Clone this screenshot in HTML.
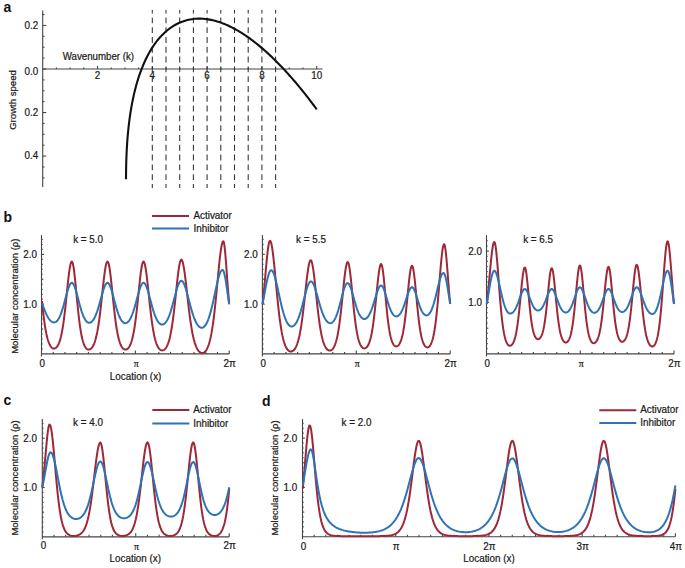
<!DOCTYPE html>
<html><head><meta charset="utf-8"><style>
html,body{margin:0;padding:0;background:#fff;width:685px;height:568px;overflow:hidden}
svg{display:block}
</style></head><body>
<svg width="685" height="568" viewBox="0 0 685 568">
<rect width="685" height="568" fill="#fff"/>
<text x="3.5" y="12.2" font-family='"Liberation Sans", sans-serif' font-size="14" text-anchor="start" font-weight="bold" fill="#111">a</text>
<line x1="42.7" y1="10.5" x2="42.7" y2="187" stroke="#444" stroke-width="1.1" />
<line x1="42.7" y1="69" x2="322.5" y2="69" stroke="#444" stroke-width="1.1" />
<line x1="42.7" y1="177.85" x2="44.5" y2="177.85" stroke="#444" stroke-width="1.1" />
<line x1="42.7" y1="166.97" x2="44.5" y2="166.97" stroke="#444" stroke-width="1.1" />
<line x1="42.7" y1="156.08" x2="46.2" y2="156.08" stroke="#444" stroke-width="1.1" />
<line x1="42.7" y1="145.19" x2="44.5" y2="145.19" stroke="#444" stroke-width="1.1" />
<line x1="42.7" y1="134.31" x2="44.5" y2="134.31" stroke="#444" stroke-width="1.1" />
<line x1="42.7" y1="123.42" x2="44.5" y2="123.42" stroke="#444" stroke-width="1.1" />
<line x1="42.7" y1="112.54" x2="46.2" y2="112.54" stroke="#444" stroke-width="1.1" />
<line x1="42.7" y1="101.66" x2="44.5" y2="101.66" stroke="#444" stroke-width="1.1" />
<line x1="42.7" y1="90.77" x2="44.5" y2="90.77" stroke="#444" stroke-width="1.1" />
<line x1="42.7" y1="79.89" x2="44.5" y2="79.89" stroke="#444" stroke-width="1.1" />
<line x1="42.7" y1="69" x2="46.2" y2="69" stroke="#444" stroke-width="1.1" />
<line x1="42.7" y1="58.12" x2="44.5" y2="58.12" stroke="#444" stroke-width="1.1" />
<line x1="42.7" y1="47.23" x2="44.5" y2="47.23" stroke="#444" stroke-width="1.1" />
<line x1="42.7" y1="36.34" x2="44.5" y2="36.34" stroke="#444" stroke-width="1.1" />
<line x1="42.7" y1="25.46" x2="46.2" y2="25.46" stroke="#444" stroke-width="1.1" />
<line x1="42.7" y1="14.58" x2="44.5" y2="14.58" stroke="#444" stroke-width="1.1" />
<text transform="translate(38.2 28.76) scale(0.97 1)" font-family='"Liberation Sans", sans-serif' font-size="10.18" text-anchor="end" fill="#1a1a1a" stroke="#1a1a1a" stroke-width="0.22">0.2</text>
<text transform="translate(38.2 74.6) scale(0.97 1)" font-family='"Liberation Sans", sans-serif' font-size="10.18" text-anchor="end" fill="#1a1a1a" stroke="#1a1a1a" stroke-width="0.22">0.0</text>
<text transform="translate(38.2 115.84) scale(0.97 1)" font-family='"Liberation Sans", sans-serif' font-size="10.18" text-anchor="end" fill="#1a1a1a" stroke="#1a1a1a" stroke-width="0.22">0.2</text>
<text transform="translate(38.2 159.38) scale(0.97 1)" font-family='"Liberation Sans", sans-serif' font-size="10.18" text-anchor="end" fill="#1a1a1a" stroke="#1a1a1a" stroke-width="0.22">0.4</text>
<line x1="56.4" y1="69" x2="56.4" y2="67.4" stroke="#444" stroke-width="1.1" />
<line x1="70.1" y1="69" x2="70.1" y2="67.4" stroke="#444" stroke-width="1.1" />
<line x1="83.8" y1="69" x2="83.8" y2="67.4" stroke="#444" stroke-width="1.1" />
<line x1="97.5" y1="69" x2="97.5" y2="66" stroke="#444" stroke-width="1.1" />
<line x1="111.2" y1="69" x2="111.2" y2="67.4" stroke="#444" stroke-width="1.1" />
<line x1="124.9" y1="69" x2="124.9" y2="67.4" stroke="#444" stroke-width="1.1" />
<line x1="138.6" y1="69" x2="138.6" y2="67.4" stroke="#444" stroke-width="1.1" />
<line x1="152.3" y1="69" x2="152.3" y2="66" stroke="#444" stroke-width="1.1" />
<line x1="166" y1="69" x2="166" y2="67.4" stroke="#444" stroke-width="1.1" />
<line x1="179.7" y1="69" x2="179.7" y2="67.4" stroke="#444" stroke-width="1.1" />
<line x1="193.4" y1="69" x2="193.4" y2="67.4" stroke="#444" stroke-width="1.1" />
<line x1="207.1" y1="69" x2="207.1" y2="66" stroke="#444" stroke-width="1.1" />
<line x1="220.8" y1="69" x2="220.8" y2="67.4" stroke="#444" stroke-width="1.1" />
<line x1="234.5" y1="69" x2="234.5" y2="67.4" stroke="#444" stroke-width="1.1" />
<line x1="248.2" y1="69" x2="248.2" y2="67.4" stroke="#444" stroke-width="1.1" />
<line x1="261.9" y1="69" x2="261.9" y2="66" stroke="#444" stroke-width="1.1" />
<line x1="275.6" y1="69" x2="275.6" y2="67.4" stroke="#444" stroke-width="1.1" />
<line x1="289.3" y1="69" x2="289.3" y2="67.4" stroke="#444" stroke-width="1.1" />
<line x1="303" y1="69" x2="303" y2="67.4" stroke="#444" stroke-width="1.1" />
<line x1="316.7" y1="69" x2="316.7" y2="66" stroke="#444" stroke-width="1.1" />
<text transform="translate(97.5 79) scale(0.97 1)" font-family='"Liberation Sans", sans-serif' font-size="10.18" text-anchor="middle" fill="#1a1a1a" stroke="#1a1a1a" stroke-width="0.22">2</text>
<text transform="translate(152.3 79) scale(0.97 1)" font-family='"Liberation Sans", sans-serif' font-size="10.18" text-anchor="middle" fill="#1a1a1a" stroke="#1a1a1a" stroke-width="0.22">4</text>
<text transform="translate(207.1 79) scale(0.97 1)" font-family='"Liberation Sans", sans-serif' font-size="10.18" text-anchor="middle" fill="#1a1a1a" stroke="#1a1a1a" stroke-width="0.22">6</text>
<text transform="translate(261.9 79) scale(0.97 1)" font-family='"Liberation Sans", sans-serif' font-size="10.18" text-anchor="middle" fill="#1a1a1a" stroke="#1a1a1a" stroke-width="0.22">8</text>
<text transform="translate(316.7 79) scale(0.97 1)" font-family='"Liberation Sans", sans-serif' font-size="10.18" text-anchor="middle" fill="#1a1a1a" stroke="#1a1a1a" stroke-width="0.22">10</text>
<text transform="translate(62.7 60.2) scale(0.97 1)" font-family='"Liberation Sans", sans-serif' font-size="10.02" text-anchor="start" fill="#1a1a1a" stroke="#1a1a1a" stroke-width="0.22">Wavenumber (k)</text>
<text transform="translate(16.4 100) rotate(-90)" font-family='"Liberation Sans", sans-serif' font-size="9.6" text-anchor="middle" fill="#1a1a1a" stroke="#1a1a1a" stroke-width="0.22">Growth speed</text>
<line x1="152.3" y1="10" x2="152.3" y2="188" stroke="#303030" stroke-width="1.05" stroke-dasharray="5.9,3.9" stroke-dashoffset="2.4"/>
<line x1="166" y1="10" x2="166" y2="188" stroke="#303030" stroke-width="1.05" stroke-dasharray="5.9,3.9" stroke-dashoffset="2.4"/>
<line x1="179.7" y1="10" x2="179.7" y2="188" stroke="#303030" stroke-width="1.05" stroke-dasharray="5.9,3.9" stroke-dashoffset="2.4"/>
<line x1="193.4" y1="10" x2="193.4" y2="188" stroke="#303030" stroke-width="1.05" stroke-dasharray="5.9,3.9" stroke-dashoffset="2.4"/>
<line x1="207.1" y1="10" x2="207.1" y2="188" stroke="#303030" stroke-width="1.05" stroke-dasharray="5.9,3.9" stroke-dashoffset="2.4"/>
<line x1="220.8" y1="10" x2="220.8" y2="188" stroke="#303030" stroke-width="1.05" stroke-dasharray="5.9,3.9" stroke-dashoffset="2.4"/>
<line x1="234.5" y1="10" x2="234.5" y2="188" stroke="#303030" stroke-width="1.05" stroke-dasharray="5.9,3.9" stroke-dashoffset="2.4"/>
<line x1="248.2" y1="10" x2="248.2" y2="188" stroke="#303030" stroke-width="1.05" stroke-dasharray="5.9,3.9" stroke-dashoffset="2.4"/>
<line x1="261.9" y1="10" x2="261.9" y2="188" stroke="#303030" stroke-width="1.05" stroke-dasharray="5.9,3.9" stroke-dashoffset="2.4"/>
<line x1="275.6" y1="10" x2="275.6" y2="188" stroke="#303030" stroke-width="1.05" stroke-dasharray="5.9,3.9" stroke-dashoffset="2.4"/>
<path d="M126.02,179.14 L126.03,176.90 L126.04,174.69 L126.06,172.49 L126.09,170.31 L126.12,168.15 L126.16,166.02 L126.21,163.89 L126.27,161.79 L126.33,159.71 L126.41,157.64 L126.49,155.59 L126.57,153.56 L126.67,151.54 L126.77,149.55 L126.88,147.56 L127.00,145.60 L127.12,143.65 L127.26,141.72 L127.40,139.81 L127.55,137.91 L127.70,136.03 L127.87,134.16 L128.04,132.31 L128.22,130.48 L128.40,128.66 L128.60,126.85 L128.80,125.07 L129.01,123.29 L129.23,121.54 L129.45,119.79 L129.68,118.06 L129.92,116.35 L130.17,114.65 L130.42,112.97 L130.69,111.30 L130.96,109.64 L131.23,108.00 L131.52,106.38 L131.81,104.76 L132.11,103.17 L132.42,101.58 L132.74,100.01 L133.06,98.46 L133.39,96.92 L133.73,95.39 L134.08,93.87 L134.43,92.37 L134.79,90.89 L135.16,89.42 L135.54,87.96 L135.92,86.51 L136.31,85.08 L136.71,83.67 L137.12,82.26 L137.54,80.88 L137.96,79.50 L138.39,78.14 L138.83,76.79 L139.27,75.46 L139.72,74.14 L141.21,70.04 L142.70,66.27 L144.19,62.78 L145.67,59.55 L147.16,56.54 L148.65,53.72 L150.14,51.10 L151.62,48.64 L153.11,46.33 L154.60,44.16 L156.08,42.13 L157.57,40.22 L159.06,38.42 L160.55,36.74 L162.03,35.15 L163.52,33.67 L165.01,32.27 L166.49,30.96 L167.98,29.74 L169.47,28.59 L170.96,27.52 L172.44,26.53 L173.93,25.60 L175.42,24.74 L176.90,23.95 L178.39,23.22 L179.88,22.55 L181.37,21.94 L182.85,21.39 L184.34,20.89 L185.83,20.44 L187.31,20.05 L188.80,19.71 L190.29,19.42 L191.78,19.17 L193.26,18.97 L194.75,18.82 L196.24,18.71 L197.73,18.65 L199.21,18.63 L200.70,18.65 L202.19,18.71 L203.67,18.81 L205.16,18.95 L206.65,19.13 L208.14,19.35 L209.62,19.60 L211.11,19.89 L212.60,20.21 L214.08,20.57 L215.57,20.97 L217.06,21.40 L218.55,21.86 L220.03,22.35 L221.52,22.88 L223.01,23.44 L224.49,24.03 L225.98,24.65 L227.47,25.30 L228.96,25.98 L230.44,26.69 L231.93,27.43 L233.42,28.20 L234.90,29.00 L236.39,29.82 L237.88,30.68 L239.37,31.56 L240.85,32.46 L242.34,33.40 L243.83,34.36 L245.32,35.34 L246.80,36.36 L248.29,37.39 L249.78,38.46 L251.26,39.55 L252.75,40.66 L254.24,41.80 L255.73,42.96 L257.21,44.15 L258.70,45.36 L260.19,46.59 L261.67,47.85 L263.16,49.13 L264.65,50.43 L266.14,51.76 L267.62,53.11 L269.11,54.48 L270.60,55.87 L272.08,57.28 L273.57,58.72 L275.06,60.18 L276.55,61.66 L278.03,63.16 L279.52,64.69 L281.01,66.23 L282.49,67.79 L283.98,69.38 L285.47,70.99 L286.96,72.61 L288.44,74.26 L289.93,75.93 L291.42,77.62 L292.91,79.32 L294.39,81.05 L295.88,82.80 L297.37,84.56 L298.85,86.35 L300.34,88.15 L301.83,89.98 L303.32,91.82 L304.80,93.68 L306.29,95.57 L307.78,97.47 L309.26,99.38 L310.75,101.32 L312.24,103.28 L313.73,105.25 L315.21,107.25 L316.70,109.26" fill="none" stroke="#111" stroke-width="2.1" stroke-linejoin="round" stroke-linecap="butt" />
<text x="3.5" y="221.5" font-family='"Liberation Sans", sans-serif' font-size="14" text-anchor="start" font-weight="bold" fill="#111">b</text>
<line x1="152" y1="215.9" x2="189" y2="215.9" stroke="#9e2838" stroke-width="2" />
<line x1="152" y1="228.6" x2="189" y2="228.6" stroke="#2c74b6" stroke-width="2" />
<text transform="translate(193.5 219.1) scale(0.97 1)" font-family='"Liberation Sans", sans-serif' font-size="10.18" text-anchor="start" fill="#1a1a1a" stroke="#1a1a1a" stroke-width="0.22">Activator</text>
<text transform="translate(193.5 231.8) scale(0.97 1)" font-family='"Liberation Sans", sans-serif' font-size="10.18" text-anchor="start" fill="#1a1a1a" stroke="#1a1a1a" stroke-width="0.22">Inhibitor</text>
<line x1="41.5" y1="235.1" x2="41.5" y2="356.4" stroke="#444" stroke-width="1.1" />
<line x1="41.5" y1="353.9" x2="229.2" y2="353.9" stroke="#444" stroke-width="1.1" />
<line x1="41.5" y1="348.92" x2="42.7" y2="348.92" stroke="#444" stroke-width="1.1" />
<line x1="41.5" y1="343.95" x2="42.7" y2="343.95" stroke="#444" stroke-width="1.1" />
<line x1="41.5" y1="338.97" x2="42.7" y2="338.97" stroke="#444" stroke-width="1.1" />
<line x1="41.5" y1="334" x2="42.7" y2="334" stroke="#444" stroke-width="1.1" />
<line x1="41.5" y1="329.02" x2="43.3" y2="329.02" stroke="#444" stroke-width="1.1" />
<line x1="41.5" y1="324.05" x2="42.7" y2="324.05" stroke="#444" stroke-width="1.1" />
<line x1="41.5" y1="319.07" x2="42.7" y2="319.07" stroke="#444" stroke-width="1.1" />
<line x1="41.5" y1="314.1" x2="42.7" y2="314.1" stroke="#444" stroke-width="1.1" />
<line x1="41.5" y1="309.12" x2="42.7" y2="309.12" stroke="#444" stroke-width="1.1" />
<line x1="41.5" y1="304.15" x2="43.9" y2="304.15" stroke="#444" stroke-width="1.1" />
<line x1="41.5" y1="299.17" x2="42.7" y2="299.17" stroke="#444" stroke-width="1.1" />
<line x1="41.5" y1="294.2" x2="42.7" y2="294.2" stroke="#444" stroke-width="1.1" />
<line x1="41.5" y1="289.22" x2="42.7" y2="289.22" stroke="#444" stroke-width="1.1" />
<line x1="41.5" y1="284.25" x2="42.7" y2="284.25" stroke="#444" stroke-width="1.1" />
<line x1="41.5" y1="279.27" x2="43.3" y2="279.27" stroke="#444" stroke-width="1.1" />
<line x1="41.5" y1="274.3" x2="42.7" y2="274.3" stroke="#444" stroke-width="1.1" />
<line x1="41.5" y1="269.32" x2="42.7" y2="269.32" stroke="#444" stroke-width="1.1" />
<line x1="41.5" y1="264.35" x2="42.7" y2="264.35" stroke="#444" stroke-width="1.1" />
<line x1="41.5" y1="259.38" x2="42.7" y2="259.38" stroke="#444" stroke-width="1.1" />
<line x1="41.5" y1="254.4" x2="43.9" y2="254.4" stroke="#444" stroke-width="1.1" />
<line x1="41.5" y1="249.42" x2="42.7" y2="249.42" stroke="#444" stroke-width="1.1" />
<line x1="41.5" y1="244.45" x2="42.7" y2="244.45" stroke="#444" stroke-width="1.1" />
<line x1="41.5" y1="239.47" x2="42.7" y2="239.47" stroke="#444" stroke-width="1.1" />
<line x1="53.23" y1="353.9" x2="53.23" y2="351.9" stroke="#444" stroke-width="1.1" />
<line x1="64.96" y1="353.9" x2="64.96" y2="351.9" stroke="#444" stroke-width="1.1" />
<line x1="76.69" y1="353.9" x2="76.69" y2="351.9" stroke="#444" stroke-width="1.1" />
<line x1="88.42" y1="353.9" x2="88.42" y2="351.9" stroke="#444" stroke-width="1.1" />
<line x1="100.16" y1="353.9" x2="100.16" y2="351.9" stroke="#444" stroke-width="1.1" />
<line x1="111.89" y1="353.9" x2="111.89" y2="351.9" stroke="#444" stroke-width="1.1" />
<line x1="123.62" y1="353.9" x2="123.62" y2="351.9" stroke="#444" stroke-width="1.1" />
<line x1="135.35" y1="353.9" x2="135.35" y2="350.4" stroke="#444" stroke-width="1.1" />
<line x1="147.08" y1="353.9" x2="147.08" y2="351.9" stroke="#444" stroke-width="1.1" />
<line x1="158.81" y1="353.9" x2="158.81" y2="351.9" stroke="#444" stroke-width="1.1" />
<line x1="170.54" y1="353.9" x2="170.54" y2="351.9" stroke="#444" stroke-width="1.1" />
<line x1="182.27" y1="353.9" x2="182.27" y2="351.9" stroke="#444" stroke-width="1.1" />
<line x1="194.01" y1="353.9" x2="194.01" y2="351.9" stroke="#444" stroke-width="1.1" />
<line x1="205.74" y1="353.9" x2="205.74" y2="351.9" stroke="#444" stroke-width="1.1" />
<line x1="217.47" y1="353.9" x2="217.47" y2="351.9" stroke="#444" stroke-width="1.1" />
<line x1="229.2" y1="353.9" x2="229.2" y2="350.4" stroke="#444" stroke-width="1.1" />
<text transform="translate(36.9 257.9) scale(0.97 1)" font-family='"Liberation Sans", sans-serif' font-size="10.18" text-anchor="end" fill="#1a1a1a" stroke="#1a1a1a" stroke-width="0.22">2.0</text>
<text transform="translate(36.9 307.85) scale(0.97 1)" font-family='"Liberation Sans", sans-serif' font-size="10.18" text-anchor="end" fill="#1a1a1a" stroke="#1a1a1a" stroke-width="0.22">1.0</text>
<text transform="translate(42.3 367) scale(0.97 1)" font-family='"Liberation Sans", sans-serif' font-size="10.18" text-anchor="middle" fill="#1a1a1a" stroke="#1a1a1a" stroke-width="0.22">0</text>
<text transform="translate(136.25 367) scale(0.97 1)" font-family='"Liberation Serif", serif' font-size="10.18" text-anchor="middle" fill="#1a1a1a" stroke="#1a1a1a" stroke-width="0.22">π</text>
<text transform="translate(229.7 367) scale(0.97 1)" font-family='"Liberation Sans", sans-serif' font-size="10.18" text-anchor="middle" fill="#1a1a1a" stroke="#1a1a1a" stroke-width="0.22">2π</text>
<text transform="translate(73.2 243.4) scale(0.97 1)" font-family='"Liberation Sans", sans-serif' font-size="10.18" text-anchor="start" fill="#1a1a1a" stroke="#1a1a1a" stroke-width="0.22">k = 5.0</text>
<line x1="262.4" y1="235.1" x2="262.4" y2="356.4" stroke="#444" stroke-width="1.1" />
<line x1="262.4" y1="353.9" x2="450.2" y2="353.9" stroke="#444" stroke-width="1.1" />
<line x1="262.4" y1="348.92" x2="263.6" y2="348.92" stroke="#444" stroke-width="1.1" />
<line x1="262.4" y1="343.94" x2="263.6" y2="343.94" stroke="#444" stroke-width="1.1" />
<line x1="262.4" y1="338.96" x2="263.6" y2="338.96" stroke="#444" stroke-width="1.1" />
<line x1="262.4" y1="333.98" x2="263.6" y2="333.98" stroke="#444" stroke-width="1.1" />
<line x1="262.4" y1="329" x2="264.2" y2="329" stroke="#444" stroke-width="1.1" />
<line x1="262.4" y1="324.02" x2="263.6" y2="324.02" stroke="#444" stroke-width="1.1" />
<line x1="262.4" y1="319.04" x2="263.6" y2="319.04" stroke="#444" stroke-width="1.1" />
<line x1="262.4" y1="314.06" x2="263.6" y2="314.06" stroke="#444" stroke-width="1.1" />
<line x1="262.4" y1="309.08" x2="263.6" y2="309.08" stroke="#444" stroke-width="1.1" />
<line x1="262.4" y1="304.1" x2="264.8" y2="304.1" stroke="#444" stroke-width="1.1" />
<line x1="262.4" y1="299.12" x2="263.6" y2="299.12" stroke="#444" stroke-width="1.1" />
<line x1="262.4" y1="294.14" x2="263.6" y2="294.14" stroke="#444" stroke-width="1.1" />
<line x1="262.4" y1="289.16" x2="263.6" y2="289.16" stroke="#444" stroke-width="1.1" />
<line x1="262.4" y1="284.18" x2="263.6" y2="284.18" stroke="#444" stroke-width="1.1" />
<line x1="262.4" y1="279.2" x2="264.2" y2="279.2" stroke="#444" stroke-width="1.1" />
<line x1="262.4" y1="274.22" x2="263.6" y2="274.22" stroke="#444" stroke-width="1.1" />
<line x1="262.4" y1="269.24" x2="263.6" y2="269.24" stroke="#444" stroke-width="1.1" />
<line x1="262.4" y1="264.26" x2="263.6" y2="264.26" stroke="#444" stroke-width="1.1" />
<line x1="262.4" y1="259.28" x2="263.6" y2="259.28" stroke="#444" stroke-width="1.1" />
<line x1="262.4" y1="254.3" x2="264.8" y2="254.3" stroke="#444" stroke-width="1.1" />
<line x1="262.4" y1="249.32" x2="263.6" y2="249.32" stroke="#444" stroke-width="1.1" />
<line x1="262.4" y1="244.34" x2="263.6" y2="244.34" stroke="#444" stroke-width="1.1" />
<line x1="262.4" y1="239.36" x2="263.6" y2="239.36" stroke="#444" stroke-width="1.1" />
<line x1="274.14" y1="353.9" x2="274.14" y2="351.9" stroke="#444" stroke-width="1.1" />
<line x1="285.88" y1="353.9" x2="285.88" y2="351.9" stroke="#444" stroke-width="1.1" />
<line x1="297.61" y1="353.9" x2="297.61" y2="351.9" stroke="#444" stroke-width="1.1" />
<line x1="309.35" y1="353.9" x2="309.35" y2="351.9" stroke="#444" stroke-width="1.1" />
<line x1="321.09" y1="353.9" x2="321.09" y2="351.9" stroke="#444" stroke-width="1.1" />
<line x1="332.82" y1="353.9" x2="332.82" y2="351.9" stroke="#444" stroke-width="1.1" />
<line x1="344.56" y1="353.9" x2="344.56" y2="351.9" stroke="#444" stroke-width="1.1" />
<line x1="356.3" y1="353.9" x2="356.3" y2="350.4" stroke="#444" stroke-width="1.1" />
<line x1="368.04" y1="353.9" x2="368.04" y2="351.9" stroke="#444" stroke-width="1.1" />
<line x1="379.77" y1="353.9" x2="379.77" y2="351.9" stroke="#444" stroke-width="1.1" />
<line x1="391.51" y1="353.9" x2="391.51" y2="351.9" stroke="#444" stroke-width="1.1" />
<line x1="403.25" y1="353.9" x2="403.25" y2="351.9" stroke="#444" stroke-width="1.1" />
<line x1="414.99" y1="353.9" x2="414.99" y2="351.9" stroke="#444" stroke-width="1.1" />
<line x1="426.73" y1="353.9" x2="426.73" y2="351.9" stroke="#444" stroke-width="1.1" />
<line x1="438.46" y1="353.9" x2="438.46" y2="351.9" stroke="#444" stroke-width="1.1" />
<line x1="450.2" y1="353.9" x2="450.2" y2="350.4" stroke="#444" stroke-width="1.1" />
<text transform="translate(257.8 257.8) scale(0.97 1)" font-family='"Liberation Sans", sans-serif' font-size="10.18" text-anchor="end" fill="#1a1a1a" stroke="#1a1a1a" stroke-width="0.22">2.0</text>
<text transform="translate(257.8 307.8) scale(0.97 1)" font-family='"Liberation Sans", sans-serif' font-size="10.18" text-anchor="end" fill="#1a1a1a" stroke="#1a1a1a" stroke-width="0.22">1.0</text>
<text transform="translate(263.2 367) scale(0.97 1)" font-family='"Liberation Sans", sans-serif' font-size="10.18" text-anchor="middle" fill="#1a1a1a" stroke="#1a1a1a" stroke-width="0.22">0</text>
<text transform="translate(357.2 367) scale(0.97 1)" font-family='"Liberation Serif", serif' font-size="10.18" text-anchor="middle" fill="#1a1a1a" stroke="#1a1a1a" stroke-width="0.22">π</text>
<text transform="translate(450.7 367) scale(0.97 1)" font-family='"Liberation Sans", sans-serif' font-size="10.18" text-anchor="middle" fill="#1a1a1a" stroke="#1a1a1a" stroke-width="0.22">2π</text>
<text transform="translate(296 243.4) scale(0.97 1)" font-family='"Liberation Sans", sans-serif' font-size="10.18" text-anchor="start" fill="#1a1a1a" stroke="#1a1a1a" stroke-width="0.22">k = 5.5</text>
<line x1="486.5" y1="235.1" x2="486.5" y2="356.4" stroke="#444" stroke-width="1.1" />
<line x1="486.5" y1="353.9" x2="674" y2="353.9" stroke="#444" stroke-width="1.1" />
<line x1="486.5" y1="348.76" x2="487.7" y2="348.76" stroke="#444" stroke-width="1.1" />
<line x1="486.5" y1="343.62" x2="487.7" y2="343.62" stroke="#444" stroke-width="1.1" />
<line x1="486.5" y1="338.48" x2="487.7" y2="338.48" stroke="#444" stroke-width="1.1" />
<line x1="486.5" y1="333.34" x2="487.7" y2="333.34" stroke="#444" stroke-width="1.1" />
<line x1="486.5" y1="328.2" x2="488.3" y2="328.2" stroke="#444" stroke-width="1.1" />
<line x1="486.5" y1="323.06" x2="487.7" y2="323.06" stroke="#444" stroke-width="1.1" />
<line x1="486.5" y1="317.92" x2="487.7" y2="317.92" stroke="#444" stroke-width="1.1" />
<line x1="486.5" y1="312.78" x2="487.7" y2="312.78" stroke="#444" stroke-width="1.1" />
<line x1="486.5" y1="307.64" x2="487.7" y2="307.64" stroke="#444" stroke-width="1.1" />
<line x1="486.5" y1="302.5" x2="488.9" y2="302.5" stroke="#444" stroke-width="1.1" />
<line x1="486.5" y1="297.36" x2="487.7" y2="297.36" stroke="#444" stroke-width="1.1" />
<line x1="486.5" y1="292.22" x2="487.7" y2="292.22" stroke="#444" stroke-width="1.1" />
<line x1="486.5" y1="287.08" x2="487.7" y2="287.08" stroke="#444" stroke-width="1.1" />
<line x1="486.5" y1="281.94" x2="487.7" y2="281.94" stroke="#444" stroke-width="1.1" />
<line x1="486.5" y1="276.8" x2="488.3" y2="276.8" stroke="#444" stroke-width="1.1" />
<line x1="486.5" y1="271.66" x2="487.7" y2="271.66" stroke="#444" stroke-width="1.1" />
<line x1="486.5" y1="266.52" x2="487.7" y2="266.52" stroke="#444" stroke-width="1.1" />
<line x1="486.5" y1="261.38" x2="487.7" y2="261.38" stroke="#444" stroke-width="1.1" />
<line x1="486.5" y1="256.24" x2="487.7" y2="256.24" stroke="#444" stroke-width="1.1" />
<line x1="486.5" y1="251.1" x2="488.9" y2="251.1" stroke="#444" stroke-width="1.1" />
<line x1="486.5" y1="245.96" x2="487.7" y2="245.96" stroke="#444" stroke-width="1.1" />
<line x1="486.5" y1="240.82" x2="487.7" y2="240.82" stroke="#444" stroke-width="1.1" />
<line x1="498.22" y1="353.9" x2="498.22" y2="351.9" stroke="#444" stroke-width="1.1" />
<line x1="509.94" y1="353.9" x2="509.94" y2="351.9" stroke="#444" stroke-width="1.1" />
<line x1="521.66" y1="353.9" x2="521.66" y2="351.9" stroke="#444" stroke-width="1.1" />
<line x1="533.38" y1="353.9" x2="533.38" y2="351.9" stroke="#444" stroke-width="1.1" />
<line x1="545.09" y1="353.9" x2="545.09" y2="351.9" stroke="#444" stroke-width="1.1" />
<line x1="556.81" y1="353.9" x2="556.81" y2="351.9" stroke="#444" stroke-width="1.1" />
<line x1="568.53" y1="353.9" x2="568.53" y2="351.9" stroke="#444" stroke-width="1.1" />
<line x1="580.25" y1="353.9" x2="580.25" y2="350.4" stroke="#444" stroke-width="1.1" />
<line x1="591.97" y1="353.9" x2="591.97" y2="351.9" stroke="#444" stroke-width="1.1" />
<line x1="603.69" y1="353.9" x2="603.69" y2="351.9" stroke="#444" stroke-width="1.1" />
<line x1="615.41" y1="353.9" x2="615.41" y2="351.9" stroke="#444" stroke-width="1.1" />
<line x1="627.12" y1="353.9" x2="627.12" y2="351.9" stroke="#444" stroke-width="1.1" />
<line x1="638.84" y1="353.9" x2="638.84" y2="351.9" stroke="#444" stroke-width="1.1" />
<line x1="650.56" y1="353.9" x2="650.56" y2="351.9" stroke="#444" stroke-width="1.1" />
<line x1="662.28" y1="353.9" x2="662.28" y2="351.9" stroke="#444" stroke-width="1.1" />
<line x1="674" y1="353.9" x2="674" y2="350.4" stroke="#444" stroke-width="1.1" />
<text transform="translate(481.9 254.6) scale(0.97 1)" font-family='"Liberation Sans", sans-serif' font-size="10.18" text-anchor="end" fill="#1a1a1a" stroke="#1a1a1a" stroke-width="0.22">2.0</text>
<text transform="translate(481.9 306.2) scale(0.97 1)" font-family='"Liberation Sans", sans-serif' font-size="10.18" text-anchor="end" fill="#1a1a1a" stroke="#1a1a1a" stroke-width="0.22">1.0</text>
<text transform="translate(487.3 367) scale(0.97 1)" font-family='"Liberation Sans", sans-serif' font-size="10.18" text-anchor="middle" fill="#1a1a1a" stroke="#1a1a1a" stroke-width="0.22">0</text>
<text transform="translate(581.15 367) scale(0.97 1)" font-family='"Liberation Serif", serif' font-size="10.18" text-anchor="middle" fill="#1a1a1a" stroke="#1a1a1a" stroke-width="0.22">π</text>
<text transform="translate(674.5 367) scale(0.97 1)" font-family='"Liberation Sans", sans-serif' font-size="10.18" text-anchor="middle" fill="#1a1a1a" stroke="#1a1a1a" stroke-width="0.22">2π</text>
<text transform="translate(523.2 243.4) scale(0.97 1)" font-family='"Liberation Sans", sans-serif' font-size="10.18" text-anchor="start" fill="#1a1a1a" stroke="#1a1a1a" stroke-width="0.22">k = 6.5</text>
<text transform="translate(17.6 296.2) rotate(-90)" font-family='"Liberation Sans", sans-serif' font-size="9.5" text-anchor="middle" fill="#1a1a1a" stroke="#1a1a1a" stroke-width="0.22">Molecular concentration (ρ)</text>
<text transform="translate(135.6 380) scale(0.97 1)" font-family='"Liberation Sans", sans-serif' font-size="10.18" text-anchor="middle" fill="#1a1a1a" stroke="#1a1a1a" stroke-width="0.22">Location (x)</text>
<text x="3.5" y="405" font-family='"Liberation Sans", sans-serif' font-size="14" text-anchor="start" font-weight="bold" fill="#111">c</text>
<line x1="152.3" y1="409.9" x2="189.3" y2="409.9" stroke="#9e2838" stroke-width="2" />
<line x1="152.3" y1="423.4" x2="189.3" y2="423.4" stroke="#2c74b6" stroke-width="2" />
<text transform="translate(193.2 413.1) scale(0.97 1)" font-family='"Liberation Sans", sans-serif' font-size="10.18" text-anchor="start" fill="#1a1a1a" stroke="#1a1a1a" stroke-width="0.22">Activator</text>
<text transform="translate(193.2 426.6) scale(0.97 1)" font-family='"Liberation Sans", sans-serif' font-size="10.18" text-anchor="start" fill="#1a1a1a" stroke="#1a1a1a" stroke-width="0.22">Inhibitor</text>
<line x1="42.3" y1="418.9" x2="42.3" y2="539.35" stroke="#444" stroke-width="1.1" />
<line x1="42.3" y1="536.85" x2="229.2" y2="536.85" stroke="#444" stroke-width="1.1" />
<line x1="42.3" y1="531.92" x2="43.5" y2="531.92" stroke="#444" stroke-width="1.1" />
<line x1="42.3" y1="526.99" x2="43.5" y2="526.99" stroke="#444" stroke-width="1.1" />
<line x1="42.3" y1="522.06" x2="43.5" y2="522.06" stroke="#444" stroke-width="1.1" />
<line x1="42.3" y1="517.13" x2="43.5" y2="517.13" stroke="#444" stroke-width="1.1" />
<line x1="42.3" y1="512.2" x2="44.1" y2="512.2" stroke="#444" stroke-width="1.1" />
<line x1="42.3" y1="507.27" x2="43.5" y2="507.27" stroke="#444" stroke-width="1.1" />
<line x1="42.3" y1="502.34" x2="43.5" y2="502.34" stroke="#444" stroke-width="1.1" />
<line x1="42.3" y1="497.41" x2="43.5" y2="497.41" stroke="#444" stroke-width="1.1" />
<line x1="42.3" y1="492.48" x2="43.5" y2="492.48" stroke="#444" stroke-width="1.1" />
<line x1="42.3" y1="487.55" x2="44.7" y2="487.55" stroke="#444" stroke-width="1.1" />
<line x1="42.3" y1="482.62" x2="43.5" y2="482.62" stroke="#444" stroke-width="1.1" />
<line x1="42.3" y1="477.69" x2="43.5" y2="477.69" stroke="#444" stroke-width="1.1" />
<line x1="42.3" y1="472.76" x2="43.5" y2="472.76" stroke="#444" stroke-width="1.1" />
<line x1="42.3" y1="467.83" x2="43.5" y2="467.83" stroke="#444" stroke-width="1.1" />
<line x1="42.3" y1="462.9" x2="44.1" y2="462.9" stroke="#444" stroke-width="1.1" />
<line x1="42.3" y1="457.97" x2="43.5" y2="457.97" stroke="#444" stroke-width="1.1" />
<line x1="42.3" y1="453.04" x2="43.5" y2="453.04" stroke="#444" stroke-width="1.1" />
<line x1="42.3" y1="448.11" x2="43.5" y2="448.11" stroke="#444" stroke-width="1.1" />
<line x1="42.3" y1="443.18" x2="43.5" y2="443.18" stroke="#444" stroke-width="1.1" />
<line x1="42.3" y1="438.25" x2="44.7" y2="438.25" stroke="#444" stroke-width="1.1" />
<line x1="42.3" y1="433.32" x2="43.5" y2="433.32" stroke="#444" stroke-width="1.1" />
<line x1="42.3" y1="428.39" x2="43.5" y2="428.39" stroke="#444" stroke-width="1.1" />
<line x1="42.3" y1="423.46" x2="43.5" y2="423.46" stroke="#444" stroke-width="1.1" />
<line x1="53.98" y1="536.85" x2="53.98" y2="534.85" stroke="#444" stroke-width="1.1" />
<line x1="65.66" y1="536.85" x2="65.66" y2="534.85" stroke="#444" stroke-width="1.1" />
<line x1="77.34" y1="536.85" x2="77.34" y2="534.85" stroke="#444" stroke-width="1.1" />
<line x1="89.02" y1="536.85" x2="89.02" y2="534.85" stroke="#444" stroke-width="1.1" />
<line x1="100.71" y1="536.85" x2="100.71" y2="534.85" stroke="#444" stroke-width="1.1" />
<line x1="112.39" y1="536.85" x2="112.39" y2="534.85" stroke="#444" stroke-width="1.1" />
<line x1="124.07" y1="536.85" x2="124.07" y2="534.85" stroke="#444" stroke-width="1.1" />
<line x1="135.75" y1="536.85" x2="135.75" y2="533.35" stroke="#444" stroke-width="1.1" />
<line x1="147.43" y1="536.85" x2="147.43" y2="534.85" stroke="#444" stroke-width="1.1" />
<line x1="159.11" y1="536.85" x2="159.11" y2="534.85" stroke="#444" stroke-width="1.1" />
<line x1="170.79" y1="536.85" x2="170.79" y2="534.85" stroke="#444" stroke-width="1.1" />
<line x1="182.47" y1="536.85" x2="182.47" y2="534.85" stroke="#444" stroke-width="1.1" />
<line x1="194.16" y1="536.85" x2="194.16" y2="534.85" stroke="#444" stroke-width="1.1" />
<line x1="205.84" y1="536.85" x2="205.84" y2="534.85" stroke="#444" stroke-width="1.1" />
<line x1="217.52" y1="536.85" x2="217.52" y2="534.85" stroke="#444" stroke-width="1.1" />
<line x1="229.2" y1="536.85" x2="229.2" y2="533.35" stroke="#444" stroke-width="1.1" />
<text transform="translate(37 441.8) scale(0.97 1)" font-family='"Liberation Sans", sans-serif' font-size="10.18" text-anchor="end" fill="#1a1a1a" stroke="#1a1a1a" stroke-width="0.22">2.0</text>
<text transform="translate(37 491.1) scale(0.97 1)" font-family='"Liberation Sans", sans-serif' font-size="10.18" text-anchor="end" fill="#1a1a1a" stroke="#1a1a1a" stroke-width="0.22">1.0</text>
<text transform="translate(43.6 549.4) scale(0.97 1)" font-family='"Liberation Sans", sans-serif' font-size="10.18" text-anchor="middle" fill="#1a1a1a" stroke="#1a1a1a" stroke-width="0.22">0</text>
<text transform="translate(136.6 549.5) scale(0.97 1)" font-family='"Liberation Serif", serif' font-size="10.18" text-anchor="middle" fill="#1a1a1a" stroke="#1a1a1a" stroke-width="0.22">π</text>
<text transform="translate(229.7 549.4) scale(0.97 1)" font-family='"Liberation Sans", sans-serif' font-size="10.18" text-anchor="middle" fill="#1a1a1a" stroke="#1a1a1a" stroke-width="0.22">2π</text>
<text transform="translate(73 426.2) scale(0.97 1)" font-family='"Liberation Sans", sans-serif' font-size="10.18" text-anchor="start" fill="#1a1a1a" stroke="#1a1a1a" stroke-width="0.22">k = 4.0</text>
<text transform="translate(17.5 478) rotate(-90)" font-family='"Liberation Sans", sans-serif' font-size="9.5" text-anchor="middle" fill="#1a1a1a" stroke="#1a1a1a" stroke-width="0.22">Molecular concentration (ρ)</text>
<text transform="translate(135.3 561.6) scale(0.97 1)" font-family='"Liberation Sans", sans-serif' font-size="10.18" text-anchor="middle" fill="#1a1a1a" stroke="#1a1a1a" stroke-width="0.22">Location (x)</text>
<text x="262" y="406" font-family='"Liberation Sans", sans-serif' font-size="14" text-anchor="start" font-weight="bold" fill="#111">d</text>
<line x1="599.3" y1="410.2" x2="636.3" y2="410.2" stroke="#9e2838" stroke-width="2" />
<line x1="599.3" y1="423.1" x2="636.3" y2="423.1" stroke="#2c74b6" stroke-width="2" />
<text transform="translate(640.2 413.4) scale(0.97 1)" font-family='"Liberation Sans", sans-serif' font-size="10.18" text-anchor="start" fill="#1a1a1a" stroke="#1a1a1a" stroke-width="0.22">Activator</text>
<text transform="translate(640.2 426.3) scale(0.97 1)" font-family='"Liberation Sans", sans-serif' font-size="10.18" text-anchor="start" fill="#1a1a1a" stroke="#1a1a1a" stroke-width="0.22">Inhibitor</text>
<line x1="302.5" y1="419" x2="302.5" y2="539.2" stroke="#444" stroke-width="1.1" />
<line x1="302.5" y1="536.7" x2="675.4" y2="536.7" stroke="#444" stroke-width="1.1" />
<line x1="302.5" y1="531.77" x2="303.7" y2="531.77" stroke="#444" stroke-width="1.1" />
<line x1="302.5" y1="526.84" x2="303.7" y2="526.84" stroke="#444" stroke-width="1.1" />
<line x1="302.5" y1="521.91" x2="303.7" y2="521.91" stroke="#444" stroke-width="1.1" />
<line x1="302.5" y1="516.98" x2="303.7" y2="516.98" stroke="#444" stroke-width="1.1" />
<line x1="302.5" y1="512.05" x2="304.3" y2="512.05" stroke="#444" stroke-width="1.1" />
<line x1="302.5" y1="507.12" x2="303.7" y2="507.12" stroke="#444" stroke-width="1.1" />
<line x1="302.5" y1="502.19" x2="303.7" y2="502.19" stroke="#444" stroke-width="1.1" />
<line x1="302.5" y1="497.26" x2="303.7" y2="497.26" stroke="#444" stroke-width="1.1" />
<line x1="302.5" y1="492.33" x2="303.7" y2="492.33" stroke="#444" stroke-width="1.1" />
<line x1="302.5" y1="487.4" x2="304.9" y2="487.4" stroke="#444" stroke-width="1.1" />
<line x1="302.5" y1="482.47" x2="303.7" y2="482.47" stroke="#444" stroke-width="1.1" />
<line x1="302.5" y1="477.54" x2="303.7" y2="477.54" stroke="#444" stroke-width="1.1" />
<line x1="302.5" y1="472.61" x2="303.7" y2="472.61" stroke="#444" stroke-width="1.1" />
<line x1="302.5" y1="467.68" x2="303.7" y2="467.68" stroke="#444" stroke-width="1.1" />
<line x1="302.5" y1="462.75" x2="304.3" y2="462.75" stroke="#444" stroke-width="1.1" />
<line x1="302.5" y1="457.82" x2="303.7" y2="457.82" stroke="#444" stroke-width="1.1" />
<line x1="302.5" y1="452.89" x2="303.7" y2="452.89" stroke="#444" stroke-width="1.1" />
<line x1="302.5" y1="447.96" x2="303.7" y2="447.96" stroke="#444" stroke-width="1.1" />
<line x1="302.5" y1="443.03" x2="303.7" y2="443.03" stroke="#444" stroke-width="1.1" />
<line x1="302.5" y1="438.1" x2="304.9" y2="438.1" stroke="#444" stroke-width="1.1" />
<line x1="302.5" y1="433.17" x2="303.7" y2="433.17" stroke="#444" stroke-width="1.1" />
<line x1="302.5" y1="428.24" x2="303.7" y2="428.24" stroke="#444" stroke-width="1.1" />
<line x1="302.5" y1="423.31" x2="303.7" y2="423.31" stroke="#444" stroke-width="1.1" />
<line x1="314.15" y1="536.7" x2="314.15" y2="534.7" stroke="#444" stroke-width="1.1" />
<line x1="325.81" y1="536.7" x2="325.81" y2="534.7" stroke="#444" stroke-width="1.1" />
<line x1="337.46" y1="536.7" x2="337.46" y2="534.7" stroke="#444" stroke-width="1.1" />
<line x1="349.11" y1="536.7" x2="349.11" y2="534.7" stroke="#444" stroke-width="1.1" />
<line x1="360.77" y1="536.7" x2="360.77" y2="534.7" stroke="#444" stroke-width="1.1" />
<line x1="372.42" y1="536.7" x2="372.42" y2="534.7" stroke="#444" stroke-width="1.1" />
<line x1="384.07" y1="536.7" x2="384.07" y2="534.7" stroke="#444" stroke-width="1.1" />
<line x1="395.73" y1="536.7" x2="395.73" y2="533.2" stroke="#444" stroke-width="1.1" />
<line x1="407.38" y1="536.7" x2="407.38" y2="534.7" stroke="#444" stroke-width="1.1" />
<line x1="419.03" y1="536.7" x2="419.03" y2="534.7" stroke="#444" stroke-width="1.1" />
<line x1="430.68" y1="536.7" x2="430.68" y2="534.7" stroke="#444" stroke-width="1.1" />
<line x1="442.34" y1="536.7" x2="442.34" y2="534.7" stroke="#444" stroke-width="1.1" />
<line x1="453.99" y1="536.7" x2="453.99" y2="534.7" stroke="#444" stroke-width="1.1" />
<line x1="465.64" y1="536.7" x2="465.64" y2="534.7" stroke="#444" stroke-width="1.1" />
<line x1="477.3" y1="536.7" x2="477.3" y2="534.7" stroke="#444" stroke-width="1.1" />
<line x1="488.95" y1="536.7" x2="488.95" y2="533.2" stroke="#444" stroke-width="1.1" />
<line x1="500.6" y1="536.7" x2="500.6" y2="534.7" stroke="#444" stroke-width="1.1" />
<line x1="512.26" y1="536.7" x2="512.26" y2="534.7" stroke="#444" stroke-width="1.1" />
<line x1="523.91" y1="536.7" x2="523.91" y2="534.7" stroke="#444" stroke-width="1.1" />
<line x1="535.56" y1="536.7" x2="535.56" y2="534.7" stroke="#444" stroke-width="1.1" />
<line x1="547.22" y1="536.7" x2="547.22" y2="534.7" stroke="#444" stroke-width="1.1" />
<line x1="558.87" y1="536.7" x2="558.87" y2="534.7" stroke="#444" stroke-width="1.1" />
<line x1="570.52" y1="536.7" x2="570.52" y2="534.7" stroke="#444" stroke-width="1.1" />
<line x1="582.17" y1="536.7" x2="582.17" y2="533.2" stroke="#444" stroke-width="1.1" />
<line x1="593.83" y1="536.7" x2="593.83" y2="534.7" stroke="#444" stroke-width="1.1" />
<line x1="605.48" y1="536.7" x2="605.48" y2="534.7" stroke="#444" stroke-width="1.1" />
<line x1="617.13" y1="536.7" x2="617.13" y2="534.7" stroke="#444" stroke-width="1.1" />
<line x1="628.79" y1="536.7" x2="628.79" y2="534.7" stroke="#444" stroke-width="1.1" />
<line x1="640.44" y1="536.7" x2="640.44" y2="534.7" stroke="#444" stroke-width="1.1" />
<line x1="652.09" y1="536.7" x2="652.09" y2="534.7" stroke="#444" stroke-width="1.1" />
<line x1="663.75" y1="536.7" x2="663.75" y2="534.7" stroke="#444" stroke-width="1.1" />
<line x1="675.4" y1="536.7" x2="675.4" y2="533.2" stroke="#444" stroke-width="1.1" />
<text transform="translate(297.2 442.2) scale(0.97 1)" font-family='"Liberation Sans", sans-serif' font-size="10.18" text-anchor="end" fill="#1a1a1a" stroke="#1a1a1a" stroke-width="0.22">2.0</text>
<text transform="translate(297.2 490.6) scale(0.97 1)" font-family='"Liberation Sans", sans-serif' font-size="10.18" text-anchor="end" fill="#1a1a1a" stroke="#1a1a1a" stroke-width="0.22">1.0</text>
<text transform="translate(303.6 549.9) scale(0.97 1)" font-family='"Liberation Sans", sans-serif' font-size="10.18" text-anchor="middle" fill="#1a1a1a" stroke="#1a1a1a" stroke-width="0.22">0</text>
<text transform="translate(396.15 549.9) scale(0.97 1)" font-family='"Liberation Sans", sans-serif' font-size="10.18" text-anchor="middle" fill="#1a1a1a" stroke="#1a1a1a" stroke-width="0.22">π</text>
<text transform="translate(489.4 549.9) scale(0.97 1)" font-family='"Liberation Sans", sans-serif' font-size="10.18" text-anchor="middle" fill="#1a1a1a" stroke="#1a1a1a" stroke-width="0.22">2π</text>
<text transform="translate(582.65 549.9) scale(0.97 1)" font-family='"Liberation Sans", sans-serif' font-size="10.18" text-anchor="middle" fill="#1a1a1a" stroke="#1a1a1a" stroke-width="0.22">3π</text>
<text transform="translate(675.9 549.9) scale(0.97 1)" font-family='"Liberation Sans", sans-serif' font-size="10.18" text-anchor="middle" fill="#1a1a1a" stroke="#1a1a1a" stroke-width="0.22">4π</text>
<text transform="translate(341.6 426.3) scale(0.97 1)" font-family='"Liberation Sans", sans-serif' font-size="10.18" text-anchor="start" fill="#1a1a1a" stroke="#1a1a1a" stroke-width="0.22">k = 2.0</text>
<text transform="translate(277.5 478) rotate(-90)" font-family='"Liberation Sans", sans-serif' font-size="9.5" text-anchor="middle" fill="#1a1a1a" stroke="#1a1a1a" stroke-width="0.22">Molecular concentration (ρ)</text>
<text transform="translate(489 561.6) scale(0.97 1)" font-family='"Liberation Sans", sans-serif' font-size="10.18" text-anchor="middle" fill="#1a1a1a" stroke="#1a1a1a" stroke-width="0.22">Location (x)</text>
<path d="M42.00,301.00 L42.40,305.02 L42.79,308.83 L43.19,312.43 L43.59,315.81 L43.98,318.97 L44.38,321.93 L44.78,324.67 L45.17,327.21 L45.57,329.56 L45.97,331.72 L46.36,333.71 L46.76,335.52 L47.16,337.18 L47.55,338.69 L47.95,340.06 L48.35,341.30 L48.74,342.42 L49.14,343.42 L49.54,344.31 L49.93,345.11 L50.33,345.81 L50.73,346.42 L51.12,346.95 L51.52,347.40 L51.92,347.77 L52.31,348.07 L52.71,348.31 L53.11,348.47 L53.50,348.57 L53.90,348.60 L54.50,348.53 L55.09,348.34 L55.69,348.00 L56.29,347.52 L56.88,346.88 L57.48,346.06 L58.08,345.06 L58.67,343.84 L59.27,342.37 L59.87,340.64 L60.46,338.61 L61.06,336.24 L61.66,333.51 L62.25,330.39 L62.85,326.85 L63.45,322.87 L64.04,318.47 L64.64,313.65 L65.24,308.45 L65.83,302.94 L66.43,297.21 L67.03,291.38 L67.62,285.61 L68.22,280.06 L68.82,274.92 L69.41,270.39 L70.01,266.63 L70.61,263.83 L71.20,262.09 L71.80,261.50 L72.36,262.10 L72.92,263.85 L73.48,266.69 L74.04,270.49 L74.60,275.08 L75.16,280.27 L75.72,285.89 L76.28,291.73 L76.84,297.62 L77.40,303.42 L77.96,308.99 L78.52,314.25 L79.08,319.12 L79.64,323.58 L80.20,327.60 L80.76,331.18 L81.32,334.34 L81.88,337.10 L82.44,339.49 L83.00,341.55 L83.56,343.30 L84.12,344.78 L84.68,346.02 L85.24,347.03 L85.80,347.86 L86.36,348.50 L86.92,348.99 L87.48,349.33 L88.04,349.53 L88.60,349.60 L89.23,349.53 L89.86,349.33 L90.49,348.99 L91.12,348.50 L91.75,347.86 L92.38,347.03 L93.01,346.02 L93.64,344.78 L94.27,343.30 L94.90,341.55 L95.53,339.49 L96.16,337.10 L96.79,334.34 L97.42,331.18 L98.05,327.60 L98.68,323.58 L99.31,319.12 L99.94,314.25 L100.57,308.99 L101.20,303.42 L101.83,297.62 L102.46,291.73 L103.09,285.89 L103.72,280.27 L104.35,275.08 L104.98,270.49 L105.61,266.69 L106.24,263.85 L106.87,262.10 L107.50,261.50 L108.10,262.10 L108.70,263.85 L109.30,266.69 L109.90,270.49 L110.50,275.08 L111.10,280.27 L111.70,285.89 L112.30,291.73 L112.90,297.62 L113.50,303.42 L114.10,308.99 L114.70,314.25 L115.30,319.12 L115.90,323.58 L116.50,327.60 L117.10,331.18 L117.70,334.34 L118.30,337.10 L118.90,339.49 L119.50,341.55 L120.10,343.30 L120.70,344.78 L121.30,346.02 L121.90,347.03 L122.50,347.86 L123.10,348.50 L123.70,348.99 L124.30,349.33 L124.90,349.53 L125.50,349.60 L126.10,349.53 L126.70,349.33 L127.30,348.99 L127.90,348.50 L128.50,347.86 L129.10,347.03 L129.70,346.02 L130.30,344.78 L130.90,343.30 L131.50,341.55 L132.10,339.49 L132.70,337.10 L133.30,334.34 L133.90,331.18 L134.50,327.60 L135.10,323.58 L135.70,319.12 L136.30,314.25 L136.90,308.99 L137.50,303.42 L138.10,297.62 L138.70,291.73 L139.30,285.89 L139.90,280.27 L140.50,275.08 L141.10,270.49 L141.70,266.69 L142.30,263.85 L142.90,262.10 L143.50,261.50 L144.12,262.10 L144.75,263.87 L145.37,266.74 L145.99,270.57 L146.62,275.20 L147.24,280.44 L147.86,286.11 L148.49,292.00 L149.11,297.95 L149.73,303.80 L150.36,309.42 L150.98,314.73 L151.60,319.65 L152.23,324.14 L152.85,328.20 L153.47,331.81 L154.10,335.00 L154.72,337.79 L155.34,340.20 L155.97,342.28 L156.59,344.04 L157.21,345.54 L157.84,346.78 L158.46,347.81 L159.08,348.64 L159.71,349.29 L160.33,349.79 L160.95,350.13 L161.58,350.33 L162.20,350.40 L162.84,350.33 L163.47,350.12 L164.11,349.77 L164.75,349.27 L165.38,348.60 L166.02,347.75 L166.66,346.71 L167.29,345.43 L167.93,343.91 L168.57,342.10 L169.20,339.98 L169.84,337.52 L170.48,334.67 L171.11,331.42 L171.75,327.72 L172.39,323.58 L173.02,318.99 L173.66,313.96 L174.30,308.54 L174.93,302.80 L175.57,296.83 L176.21,290.75 L176.84,284.73 L177.48,278.95 L178.12,273.59 L178.75,268.86 L179.39,264.95 L180.03,262.03 L180.66,260.21 L181.30,259.60 L182.00,260.23 L182.70,262.09 L183.40,265.11 L184.10,269.13 L184.80,273.99 L185.50,279.50 L186.20,285.45 L186.90,291.65 L187.60,297.89 L188.30,304.04 L189.00,309.95 L189.70,315.52 L190.40,320.69 L191.10,325.41 L191.80,329.67 L192.50,333.47 L193.20,336.82 L193.90,339.75 L194.60,342.29 L195.30,344.47 L196.00,346.32 L196.70,347.89 L197.40,349.20 L198.10,350.28 L198.80,351.15 L199.50,351.84 L200.20,352.36 L200.90,352.72 L201.60,352.93 L202.30,353.00 L203.00,352.92 L203.70,352.66 L204.40,352.23 L205.10,351.61 L205.80,350.79 L206.50,349.75 L207.20,348.46 L207.90,346.89 L208.60,345.01 L209.30,342.79 L210.00,340.19 L210.70,337.15 L211.40,333.65 L212.10,329.65 L212.80,325.10 L213.50,320.01 L214.20,314.36 L214.90,308.18 L215.60,301.51 L216.30,294.44 L217.00,287.10 L217.70,279.62 L218.40,272.22 L219.10,265.10 L219.80,258.51 L220.50,252.70 L221.20,247.88 L221.90,244.28 L222.60,242.05 L223.30,241.30 L223.50,241.43 L223.69,241.83 L223.89,242.48 L224.09,243.39 L224.28,244.54 L224.48,245.92 L224.68,247.52 L224.87,249.32 L225.07,251.30 L225.27,253.44 L225.46,255.73 L225.66,258.15 L225.86,260.67 L226.05,263.27 L226.25,265.93 L226.45,268.64 L226.64,271.37 L226.84,274.11 L227.04,276.84 L227.23,279.55 L227.43,282.22 L227.63,284.84 L227.82,287.40 L228.02,289.88 L228.22,292.29 L228.41,294.62 L228.61,296.86 L228.81,299.00 L229.00,301.05 L229.20,303.00" fill="none" stroke="#9e2838" stroke-width="2" stroke-linejoin="round" stroke-linecap="butt" />
<path d="M42.00,303.60 L42.41,304.60 L42.81,305.63 L43.22,306.66 L43.63,307.70 L44.03,308.73 L44.44,309.75 L44.85,310.75 L45.25,311.72 L45.66,312.66 L46.07,313.57 L46.47,314.44 L46.88,315.27 L47.29,316.05 L47.69,316.79 L48.10,317.49 L48.51,318.14 L48.91,318.74 L49.32,319.29 L49.73,319.80 L50.13,320.26 L50.54,320.67 L50.95,321.04 L51.35,321.36 L51.76,321.64 L52.17,321.87 L52.57,322.06 L52.98,322.21 L53.39,322.32 L53.79,322.38 L54.20,322.40 L54.79,322.34 L55.37,322.15 L55.96,321.83 L56.55,321.38 L57.13,320.80 L57.72,320.09 L58.31,319.24 L58.89,318.25 L59.48,317.13 L60.07,315.85 L60.65,314.44 L61.24,312.89 L61.83,311.20 L62.41,309.38 L63.00,307.45 L63.59,305.41 L64.17,303.29 L64.76,301.10 L65.35,298.88 L65.93,296.66 L66.52,294.47 L67.11,292.35 L67.69,290.35 L68.28,288.51 L68.87,286.86 L69.45,285.45 L70.04,284.31 L70.63,283.48 L71.21,282.97 L71.80,282.80 L72.38,282.97 L72.96,283.49 L73.54,284.33 L74.12,285.48 L74.70,286.90 L75.28,288.56 L75.86,290.43 L76.44,292.45 L77.02,294.59 L77.60,296.80 L78.18,299.04 L78.76,301.29 L79.34,303.49 L79.92,305.64 L80.50,307.70 L81.08,309.65 L81.66,311.49 L82.24,313.19 L82.82,314.76 L83.40,316.19 L83.98,317.47 L84.56,318.61 L85.14,319.61 L85.72,320.47 L86.30,321.19 L86.88,321.77 L87.46,322.22 L88.04,322.54 L88.62,322.74 L89.20,322.80 L89.81,322.74 L90.42,322.54 L91.03,322.22 L91.64,321.77 L92.25,321.19 L92.86,320.47 L93.47,319.61 L94.08,318.61 L94.69,317.47 L95.30,316.19 L95.91,314.76 L96.52,313.19 L97.13,311.49 L97.74,309.65 L98.35,307.70 L98.96,305.64 L99.57,303.49 L100.18,301.29 L100.79,299.04 L101.40,296.80 L102.01,294.59 L102.62,292.45 L103.23,290.43 L103.84,288.56 L104.45,286.90 L105.06,285.48 L105.67,284.33 L106.28,283.49 L106.89,282.97 L107.50,282.80 L108.09,282.97 L108.69,283.49 L109.28,284.35 L109.87,285.50 L110.47,286.94 L111.06,288.62 L111.65,290.50 L112.25,292.54 L112.84,294.70 L113.43,296.94 L114.03,299.21 L114.62,301.47 L115.21,303.70 L115.81,305.87 L116.40,307.95 L116.99,309.92 L117.59,311.77 L118.18,313.50 L118.77,315.08 L119.37,316.52 L119.96,317.82 L120.55,318.97 L121.15,319.98 L121.74,320.84 L122.33,321.57 L122.93,322.16 L123.52,322.62 L124.11,322.94 L124.71,323.14 L125.30,323.20 L125.91,323.14 L126.51,322.94 L127.12,322.62 L127.73,322.16 L128.33,321.57 L128.94,320.84 L129.55,319.98 L130.15,318.97 L130.76,317.82 L131.37,316.52 L131.97,315.08 L132.58,313.50 L133.19,311.77 L133.79,309.92 L134.40,307.95 L135.01,305.87 L135.61,303.70 L136.22,301.47 L136.83,299.21 L137.43,296.94 L138.04,294.70 L138.65,292.54 L139.25,290.50 L139.86,288.62 L140.47,286.94 L141.07,285.50 L141.68,284.35 L142.29,283.49 L142.89,282.97 L143.50,282.80 L144.12,282.98 L144.74,283.52 L145.36,284.40 L145.98,285.60 L146.60,287.08 L147.22,288.82 L147.84,290.77 L148.46,292.88 L149.08,295.12 L149.70,297.43 L150.32,299.77 L150.94,302.12 L151.56,304.42 L152.18,306.67 L152.80,308.82 L153.42,310.86 L154.04,312.78 L154.66,314.56 L155.28,316.20 L155.90,317.69 L156.52,319.03 L157.14,320.22 L157.76,321.27 L158.38,322.16 L159.00,322.91 L159.62,323.53 L160.24,324.00 L160.86,324.33 L161.48,324.53 L162.10,324.60 L162.74,324.53 L163.38,324.32 L164.02,323.97 L164.66,323.47 L165.30,322.83 L165.94,322.05 L166.58,321.11 L167.22,320.01 L167.86,318.77 L168.50,317.36 L169.14,315.80 L169.78,314.08 L170.42,312.21 L171.06,310.20 L171.70,308.06 L172.34,305.81 L172.98,303.46 L173.62,301.04 L174.26,298.59 L174.90,296.13 L175.54,293.71 L176.18,291.37 L176.82,289.15 L177.46,287.11 L178.10,285.29 L178.74,283.73 L179.38,282.48 L180.02,281.55 L180.66,280.99 L181.30,280.80 L181.98,281.00 L182.67,281.61 L183.35,282.60 L184.03,283.95 L184.72,285.62 L185.40,287.57 L186.08,289.76 L186.77,292.14 L187.45,294.65 L188.13,297.25 L188.82,299.89 L189.50,302.52 L190.18,305.12 L190.87,307.64 L191.55,310.06 L192.23,312.35 L192.92,314.51 L193.60,316.51 L194.28,318.35 L194.97,320.03 L195.65,321.54 L196.33,322.88 L197.02,324.05 L197.70,325.06 L198.38,325.90 L199.07,326.59 L199.75,327.12 L200.43,327.50 L201.12,327.72 L201.80,327.80 L202.49,327.71 L203.18,327.43 L203.87,326.97 L204.56,326.31 L205.25,325.47 L205.94,324.42 L206.63,323.18 L207.32,321.74 L208.01,320.09 L208.70,318.23 L209.39,316.16 L210.08,313.89 L210.77,311.43 L211.46,308.77 L212.15,305.94 L212.84,302.96 L213.53,299.85 L214.22,296.66 L214.91,293.41 L215.60,290.16 L216.29,286.96 L216.98,283.87 L217.67,280.94 L218.36,278.24 L219.05,275.83 L219.74,273.78 L220.43,272.11 L221.12,270.90 L221.81,270.15 L222.50,269.90 L222.72,269.96 L222.95,270.13 L223.17,270.42 L223.39,270.82 L223.62,271.33 L223.84,271.94 L224.06,272.66 L224.29,273.48 L224.51,274.39 L224.73,275.40 L224.96,276.48 L225.18,277.64 L225.40,278.87 L225.63,280.17 L225.85,281.52 L226.07,282.92 L226.30,284.37 L226.52,285.86 L226.74,287.37 L226.97,288.91 L227.19,290.46 L227.41,292.03 L227.64,293.60 L227.86,295.17 L228.08,296.73 L228.31,298.29 L228.53,299.82 L228.75,301.34 L228.98,302.83 L229.20,304.30" fill="none" stroke="#2c74b6" stroke-width="2" stroke-linejoin="round" stroke-linecap="butt" />
<path d="M262.60,304.00 L262.85,301.81 L263.09,299.53 L263.34,297.17 L263.59,294.73 L263.83,292.21 L264.08,289.62 L264.33,286.97 L264.57,284.26 L264.82,281.52 L265.07,278.74 L265.31,275.94 L265.56,273.14 L265.81,270.35 L266.05,267.58 L266.30,264.86 L266.55,262.20 L266.79,259.61 L267.04,257.13 L267.29,254.75 L267.53,252.51 L267.78,250.42 L268.03,248.50 L268.27,246.77 L268.52,245.23 L268.77,243.90 L269.01,242.80 L269.26,241.93 L269.51,241.30 L269.75,240.93 L270.00,240.80 L270.69,241.55 L271.39,243.76 L272.08,247.33 L272.77,252.10 L273.47,257.87 L274.16,264.41 L274.85,271.47 L275.55,278.81 L276.24,286.23 L276.93,293.51 L277.63,300.52 L278.32,307.14 L279.01,313.27 L279.71,318.87 L280.40,323.93 L281.09,328.43 L281.79,332.41 L282.48,335.88 L283.17,338.89 L283.87,341.48 L284.56,343.68 L285.25,345.54 L285.95,347.09 L286.64,348.37 L287.33,349.41 L288.03,350.22 L288.72,350.84 L289.41,351.26 L290.11,351.52 L290.80,351.60 L291.46,351.53 L292.13,351.32 L292.79,350.97 L293.45,350.46 L294.12,349.79 L294.78,348.94 L295.44,347.88 L296.11,346.60 L296.77,345.07 L297.43,343.25 L298.10,341.12 L298.76,338.63 L299.42,335.77 L300.09,332.49 L300.75,328.77 L301.41,324.60 L302.08,319.98 L302.74,314.92 L303.40,309.47 L304.07,303.69 L304.73,297.67 L305.39,291.56 L306.06,285.50 L306.72,279.68 L307.38,274.28 L308.05,269.52 L308.71,265.59 L309.37,262.64 L310.04,260.82 L310.70,260.20 L311.34,260.81 L311.97,262.61 L312.61,265.53 L313.25,269.42 L313.88,274.13 L314.52,279.46 L315.16,285.22 L315.79,291.22 L316.43,297.26 L317.07,303.21 L317.70,308.93 L318.34,314.32 L318.98,319.33 L319.61,323.90 L320.25,328.02 L320.89,331.70 L321.52,334.94 L322.16,337.78 L322.80,340.23 L323.43,342.34 L324.07,344.14 L324.71,345.65 L325.34,346.92 L325.98,347.97 L326.62,348.81 L327.25,349.48 L327.89,349.98 L328.53,350.33 L329.16,350.53 L329.80,350.60 L330.40,350.53 L330.99,350.33 L331.59,349.99 L332.19,349.50 L332.78,348.85 L333.38,348.02 L333.98,347.00 L334.57,345.75 L335.17,344.27 L335.77,342.50 L336.36,340.44 L336.96,338.03 L337.56,335.25 L338.15,332.08 L338.75,328.47 L339.35,324.43 L339.94,319.95 L340.54,315.05 L341.14,309.76 L341.73,304.15 L342.33,298.32 L342.93,292.40 L343.52,286.52 L344.12,280.88 L344.72,275.65 L345.31,271.04 L345.91,267.22 L346.51,264.37 L347.10,262.60 L347.70,262.00 L348.25,262.58 L348.81,264.31 L349.36,267.09 L349.91,270.81 L350.47,275.31 L351.02,280.41 L351.57,285.92 L352.13,291.64 L352.68,297.42 L353.23,303.11 L353.79,308.57 L354.34,313.73 L354.89,318.51 L355.45,322.88 L356.00,326.82 L356.55,330.34 L357.11,333.43 L357.66,336.14 L358.21,338.49 L358.77,340.51 L359.32,342.22 L359.87,343.67 L360.43,344.88 L360.98,345.88 L361.53,346.69 L362.09,347.33 L362.64,347.80 L363.19,348.14 L363.75,348.33 L364.30,348.40 L364.86,348.34 L365.42,348.14 L365.98,347.82 L366.54,347.35 L367.10,346.73 L367.66,345.94 L368.22,344.97 L368.78,343.78 L369.34,342.37 L369.90,340.69 L370.46,338.72 L371.02,336.43 L371.58,333.78 L372.14,330.75 L372.70,327.32 L373.26,323.47 L373.82,319.20 L374.38,314.53 L374.94,309.49 L375.50,304.15 L376.06,298.60 L376.62,292.96 L377.18,287.36 L377.74,281.99 L378.30,277.01 L378.86,272.61 L379.42,268.98 L379.98,266.25 L380.54,264.57 L381.10,264.00 L381.60,264.56 L382.11,266.20 L382.61,268.86 L383.11,272.41 L383.62,276.70 L384.12,281.56 L384.62,286.81 L385.13,292.27 L385.63,297.78 L386.13,303.20 L386.64,308.42 L387.14,313.33 L387.64,317.89 L388.15,322.06 L388.65,325.82 L389.15,329.17 L389.66,332.13 L390.16,334.71 L390.66,336.95 L391.17,338.87 L391.67,340.51 L392.17,341.89 L392.68,343.05 L393.18,344.00 L393.68,344.77 L394.19,345.38 L394.69,345.83 L395.19,346.15 L395.70,346.34 L396.20,346.40 L396.73,346.34 L397.25,346.16 L397.78,345.84 L398.31,345.40 L398.83,344.80 L399.36,344.05 L399.89,343.12 L400.41,341.99 L400.94,340.63 L401.47,339.03 L401.99,337.14 L402.52,334.95 L403.05,332.42 L403.57,329.53 L404.10,326.25 L404.63,322.56 L405.15,318.48 L405.68,314.02 L406.21,309.20 L406.73,304.09 L407.26,298.79 L407.79,293.39 L408.31,288.04 L408.84,282.90 L409.37,278.14 L409.89,273.93 L410.42,270.46 L410.95,267.86 L411.47,266.25 L412.00,265.70 L412.51,266.25 L413.03,267.88 L413.54,270.52 L414.05,274.04 L414.57,278.29 L415.08,283.11 L415.59,288.31 L416.11,293.73 L416.62,299.20 L417.13,304.57 L417.65,309.74 L418.16,314.61 L418.67,319.14 L419.19,323.27 L419.70,327.00 L420.21,330.32 L420.73,333.25 L421.24,335.81 L421.75,338.03 L422.27,339.93 L422.78,341.56 L423.29,342.93 L423.81,344.08 L424.32,345.02 L424.83,345.78 L425.35,346.38 L425.86,346.84 L426.37,347.15 L426.89,347.34 L427.40,347.40 L427.96,347.32 L428.51,347.09 L429.07,346.69 L429.63,346.12 L430.18,345.36 L430.74,344.39 L431.30,343.20 L431.85,341.75 L432.41,340.02 L432.97,337.97 L433.52,335.56 L434.08,332.76 L434.64,329.52 L435.19,325.82 L435.75,321.63 L436.31,316.92 L436.86,311.70 L437.42,305.99 L437.98,299.83 L438.53,293.30 L439.09,286.51 L439.65,279.61 L440.20,272.77 L440.76,266.19 L441.32,260.10 L441.87,254.73 L442.43,250.28 L442.99,246.96 L443.54,244.90 L444.10,244.20 L444.30,244.32 L444.51,244.68 L444.71,245.27 L444.91,246.09 L445.12,247.13 L445.32,248.39 L445.52,249.84 L445.73,251.49 L445.93,253.31 L446.13,255.28 L446.34,257.40 L446.54,259.65 L446.74,262.00 L446.95,264.45 L447.15,266.97 L447.35,269.54 L447.56,272.16 L447.76,274.80 L447.96,277.45 L448.17,280.10 L448.37,282.73 L448.57,285.32 L448.78,287.88 L448.98,290.39 L449.18,292.84 L449.39,295.23 L449.59,297.54 L449.79,299.77 L450.00,301.93 L450.20,304.00" fill="none" stroke="#9e2838" stroke-width="2" stroke-linejoin="round" stroke-linecap="butt" />
<path d="M262.60,304.00 L262.89,302.48 L263.17,300.94 L263.46,299.38 L263.75,297.81 L264.03,296.24 L264.32,294.66 L264.61,293.09 L264.89,291.52 L265.18,289.97 L265.47,288.43 L265.75,286.92 L266.04,285.44 L266.33,284.00 L266.61,282.59 L266.90,281.24 L267.19,279.94 L267.47,278.69 L267.76,277.52 L268.05,276.41 L268.33,275.38 L268.62,274.43 L268.91,273.57 L269.19,272.80 L269.48,272.12 L269.77,271.54 L270.05,271.06 L270.34,270.69 L270.63,270.42 L270.91,270.25 L271.20,270.20 L271.88,270.44 L272.56,271.17 L273.24,272.35 L273.92,273.97 L274.60,275.97 L275.28,278.31 L275.96,280.93 L276.64,283.78 L277.32,286.79 L278.00,289.90 L278.68,293.06 L279.36,296.22 L280.04,299.33 L280.72,302.35 L281.40,305.24 L282.08,308.00 L282.76,310.58 L283.44,312.98 L284.12,315.19 L284.80,317.19 L285.48,319.00 L286.16,320.61 L286.84,322.01 L287.52,323.22 L288.20,324.23 L288.88,325.05 L289.56,325.69 L290.24,326.14 L290.92,326.41 L291.60,326.50 L292.24,326.43 L292.89,326.21 L293.53,325.85 L294.17,325.34 L294.82,324.68 L295.46,323.87 L296.10,322.90 L296.75,321.78 L297.39,320.49 L298.03,319.05 L298.68,317.44 L299.32,315.67 L299.96,313.75 L300.61,311.68 L301.25,309.47 L301.89,307.15 L302.54,304.73 L303.18,302.24 L303.82,299.71 L304.47,297.18 L305.11,294.69 L305.75,292.28 L306.40,290.00 L307.04,287.90 L307.68,286.02 L308.33,284.42 L308.97,283.12 L309.61,282.18 L310.26,281.60 L310.90,281.40 L311.55,281.58 L312.19,282.12 L312.84,283.00 L313.49,284.20 L314.13,285.68 L314.78,287.42 L315.43,289.37 L316.07,291.48 L316.72,293.72 L317.37,296.03 L318.01,298.37 L318.66,300.72 L319.31,303.02 L319.95,305.27 L320.60,307.42 L321.25,309.46 L321.89,311.38 L322.54,313.16 L323.19,314.80 L323.83,316.29 L324.48,317.63 L325.13,318.82 L325.77,319.87 L326.42,320.76 L327.07,321.51 L327.71,322.13 L328.36,322.60 L329.01,322.93 L329.65,323.13 L330.30,323.20 L330.87,323.14 L331.45,322.94 L332.02,322.62 L332.59,322.17 L333.17,321.58 L333.74,320.86 L334.31,320.00 L334.89,319.00 L335.46,317.86 L336.03,316.57 L336.61,315.14 L337.18,313.57 L337.75,311.86 L338.33,310.02 L338.90,308.06 L339.47,306.00 L340.05,303.85 L340.62,301.63 L341.19,299.38 L341.77,297.13 L342.34,294.92 L342.91,292.77 L343.49,290.75 L344.06,288.88 L344.63,287.21 L345.21,285.78 L345.78,284.63 L346.35,283.79 L346.93,283.27 L347.50,283.10 L348.06,283.26 L348.62,283.72 L349.18,284.47 L349.74,285.50 L350.30,286.78 L350.86,288.27 L351.42,289.94 L351.98,291.76 L352.54,293.68 L353.10,295.66 L353.66,297.68 L354.22,299.69 L354.78,301.67 L355.34,303.60 L355.90,305.45 L356.46,307.20 L357.02,308.85 L357.58,310.38 L358.14,311.79 L358.70,313.07 L359.26,314.22 L359.82,315.24 L360.38,316.14 L360.94,316.91 L361.50,317.55 L362.06,318.08 L362.62,318.48 L363.18,318.77 L363.74,318.94 L364.30,319.00 L364.86,318.95 L365.42,318.79 L365.98,318.52 L366.54,318.14 L367.10,317.65 L367.66,317.05 L368.22,316.33 L368.78,315.49 L369.34,314.54 L369.90,313.46 L370.46,312.27 L371.02,310.95 L371.58,309.53 L372.14,307.99 L372.70,306.35 L373.26,304.63 L373.82,302.83 L374.38,300.98 L374.94,299.10 L375.50,297.22 L376.06,295.37 L376.62,293.58 L377.18,291.89 L377.74,290.33 L378.30,288.93 L378.86,287.74 L379.42,286.78 L379.98,286.08 L380.54,285.64 L381.10,285.50 L381.60,285.63 L382.11,286.03 L382.61,286.68 L383.11,287.57 L383.62,288.67 L384.12,289.95 L384.62,291.39 L385.13,292.95 L385.63,294.60 L386.13,296.31 L386.64,298.05 L387.14,299.78 L387.64,301.49 L388.15,303.14 L388.65,304.73 L389.15,306.24 L389.66,307.66 L390.16,308.98 L390.66,310.19 L391.17,311.29 L391.67,312.28 L392.17,313.16 L392.68,313.94 L393.18,314.60 L393.68,315.15 L394.19,315.61 L394.69,315.95 L395.19,316.20 L395.70,316.35 L396.20,316.40 L396.73,316.35 L397.25,316.21 L397.78,315.98 L398.31,315.65 L398.83,315.22 L399.36,314.70 L399.89,314.07 L400.41,313.34 L400.94,312.51 L401.47,311.57 L401.99,310.53 L402.52,309.39 L403.05,308.14 L403.57,306.80 L404.10,305.38 L404.63,303.87 L405.15,302.31 L405.68,300.69 L406.21,299.06 L406.73,297.42 L407.26,295.80 L407.79,294.24 L408.31,292.77 L408.84,291.41 L409.37,290.19 L409.89,289.15 L410.42,288.32 L410.95,287.70 L411.47,287.33 L412.00,287.20 L412.48,287.32 L412.97,287.68 L413.45,288.28 L413.93,289.09 L414.42,290.09 L414.90,291.26 L415.38,292.58 L415.87,294.00 L416.35,295.51 L416.83,297.07 L417.32,298.65 L417.80,300.23 L418.28,301.79 L418.77,303.30 L419.25,304.75 L419.73,306.13 L420.22,307.42 L420.70,308.63 L421.18,309.73 L421.67,310.74 L422.15,311.64 L422.63,312.45 L423.12,313.15 L423.60,313.76 L424.08,314.26 L424.57,314.68 L425.05,314.99 L425.53,315.22 L426.02,315.35 L426.50,315.40 L427.06,315.33 L427.63,315.13 L428.19,314.79 L428.75,314.31 L429.32,313.69 L429.88,312.93 L430.44,312.02 L431.01,310.96 L431.57,309.75 L432.13,308.39 L432.70,306.88 L433.26,305.22 L433.82,303.41 L434.39,301.46 L434.95,299.39 L435.51,297.21 L436.08,294.94 L436.64,292.59 L437.20,290.22 L437.77,287.84 L438.33,285.49 L438.89,283.23 L439.46,281.08 L440.02,279.11 L440.58,277.35 L441.15,275.84 L441.71,274.62 L442.27,273.73 L442.84,273.18 L443.40,273.00 L443.63,273.05 L443.85,273.20 L444.08,273.45 L444.31,273.79 L444.53,274.23 L444.76,274.76 L444.99,275.38 L445.21,276.09 L445.44,276.88 L445.67,277.75 L445.89,278.70 L446.12,279.71 L446.35,280.79 L446.57,281.93 L446.80,283.12 L447.03,284.37 L447.25,285.65 L447.48,286.98 L447.71,288.34 L447.93,289.72 L448.16,291.13 L448.39,292.56 L448.61,293.99 L448.84,295.44 L449.07,296.88 L449.29,298.33 L449.52,299.76 L449.75,301.19 L449.97,302.60 L450.20,304.00" fill="none" stroke="#2c74b6" stroke-width="2" stroke-linejoin="round" stroke-linecap="butt" />
<path d="M486.80,304.00 L487.05,301.85 L487.30,299.62 L487.55,297.30 L487.80,294.90 L488.05,292.43 L488.30,289.89 L488.55,287.29 L488.80,284.64 L489.05,281.94 L489.30,279.22 L489.55,276.47 L489.80,273.73 L490.05,270.99 L490.30,268.27 L490.55,265.60 L490.80,262.99 L491.05,260.46 L491.30,258.02 L491.55,255.69 L491.80,253.49 L492.05,251.44 L492.30,249.56 L492.55,247.85 L492.80,246.34 L493.05,245.04 L493.30,243.96 L493.55,243.11 L493.80,242.49 L494.05,242.12 L494.30,242.00 L494.82,242.70 L495.33,244.77 L495.85,248.12 L496.37,252.59 L496.88,258.00 L497.40,264.12 L497.92,270.73 L498.43,277.61 L498.95,284.56 L499.47,291.38 L499.98,297.95 L500.50,304.15 L501.02,309.89 L501.53,315.14 L502.05,319.88 L502.57,324.10 L503.08,327.82 L503.60,331.07 L504.12,333.89 L504.63,336.32 L505.15,338.38 L505.67,340.12 L506.18,341.58 L506.70,342.78 L507.22,343.75 L507.73,344.51 L508.25,345.08 L508.77,345.49 L509.28,345.72 L509.80,345.80 L510.30,345.74 L510.80,345.56 L511.30,345.26 L511.80,344.83 L512.30,344.25 L512.80,343.52 L513.30,342.61 L513.80,341.52 L514.30,340.20 L514.80,338.65 L515.30,336.82 L515.80,334.69 L516.30,332.24 L516.80,329.43 L517.30,326.25 L517.80,322.67 L518.30,318.71 L518.80,314.38 L519.30,309.71 L519.80,304.75 L520.30,299.60 L520.80,294.36 L521.30,289.17 L521.80,284.19 L522.30,279.57 L522.80,275.49 L523.30,272.12 L523.80,269.59 L524.30,268.03 L524.80,267.50 L525.24,267.98 L525.68,269.42 L526.12,271.73 L526.56,274.82 L527.00,278.55 L527.44,282.78 L527.88,287.35 L528.32,292.10 L528.76,296.90 L529.20,301.61 L529.64,306.15 L530.08,310.43 L530.52,314.40 L530.96,318.02 L531.40,321.29 L531.84,324.21 L532.28,326.78 L532.72,329.03 L533.16,330.98 L533.60,332.65 L534.04,334.07 L534.48,335.28 L534.92,336.28 L535.36,337.11 L535.80,337.78 L536.24,338.31 L536.68,338.71 L537.12,338.98 L537.56,339.15 L538.00,339.20 L538.46,339.15 L538.91,338.98 L539.37,338.71 L539.83,338.32 L540.28,337.80 L540.74,337.13 L541.20,336.31 L541.65,335.32 L542.11,334.12 L542.57,332.71 L543.02,331.06 L543.48,329.13 L543.94,326.90 L544.39,324.36 L544.85,321.47 L545.31,318.23 L545.76,314.64 L546.22,310.71 L546.68,306.47 L547.13,301.98 L547.59,297.31 L548.05,292.56 L548.50,287.85 L548.96,283.33 L549.42,279.14 L549.87,275.44 L550.33,272.39 L550.79,270.10 L551.24,268.68 L551.70,268.20 L552.17,268.70 L552.64,270.18 L553.11,272.58 L553.58,275.78 L554.05,279.65 L554.52,284.03 L554.99,288.77 L555.46,293.69 L555.93,298.66 L556.40,303.55 L556.87,308.25 L557.34,312.68 L557.81,316.80 L558.28,320.56 L558.75,323.94 L559.22,326.97 L559.69,329.63 L560.16,331.96 L560.63,333.98 L561.10,335.71 L561.57,337.19 L562.04,338.44 L562.51,339.48 L562.98,340.34 L563.45,341.03 L563.92,341.58 L564.39,341.99 L564.86,342.27 L565.33,342.44 L565.80,342.50 L566.27,342.44 L566.74,342.27 L567.21,341.97 L567.68,341.54 L568.15,340.98 L568.62,340.26 L569.09,339.37 L569.56,338.29 L570.03,337.00 L570.50,335.46 L570.97,333.67 L571.44,331.58 L571.91,329.16 L572.38,326.40 L572.85,323.27 L573.32,319.76 L573.79,315.86 L574.26,311.60 L574.73,307.01 L575.20,302.13 L575.67,297.07 L576.14,291.92 L576.61,286.81 L577.08,281.91 L577.55,277.37 L578.02,273.36 L578.49,270.04 L578.96,267.56 L579.43,266.02 L579.90,265.50 L580.36,266.02 L580.82,267.58 L581.28,270.08 L581.74,273.43 L582.20,277.47 L582.66,282.06 L583.12,287.01 L583.58,292.16 L584.04,297.36 L584.50,302.47 L584.96,307.38 L585.42,312.02 L585.88,316.32 L586.34,320.25 L586.80,323.80 L587.26,326.95 L587.72,329.74 L588.18,332.18 L588.64,334.29 L589.10,336.10 L589.56,337.65 L590.02,338.95 L590.48,340.04 L590.94,340.94 L591.40,341.66 L591.86,342.23 L592.32,342.66 L592.78,342.96 L593.24,343.14 L593.70,343.20 L594.19,343.14 L594.69,342.97 L595.18,342.67 L595.67,342.25 L596.17,341.69 L596.66,340.97 L597.15,340.09 L597.65,339.02 L598.14,337.74 L598.63,336.22 L599.13,334.44 L599.62,332.36 L600.11,329.97 L600.61,327.23 L601.10,324.12 L601.59,320.63 L602.09,316.77 L602.58,312.54 L603.07,307.98 L603.57,303.15 L604.06,298.12 L604.55,293.01 L605.05,287.95 L605.54,283.08 L606.03,278.57 L606.53,274.59 L607.02,271.30 L607.51,268.84 L608.01,267.32 L608.50,266.80 L608.96,267.31 L609.41,268.80 L609.87,271.22 L610.33,274.45 L610.78,278.36 L611.24,282.78 L611.70,287.56 L612.15,292.53 L612.61,297.55 L613.07,302.48 L613.52,307.23 L613.98,311.70 L614.44,315.85 L614.89,319.65 L615.35,323.07 L615.81,326.12 L616.26,328.81 L616.72,331.16 L617.18,333.20 L617.63,334.95 L618.09,336.44 L618.55,337.70 L619.00,338.75 L619.46,339.62 L619.92,340.32 L620.37,340.87 L620.83,341.28 L621.29,341.57 L621.74,341.74 L622.20,341.80 L622.68,341.74 L623.17,341.57 L623.65,341.27 L624.13,340.84 L624.62,340.28 L625.10,339.56 L625.58,338.67 L626.07,337.59 L626.55,336.30 L627.03,334.76 L627.52,332.97 L628.00,330.88 L628.48,328.46 L628.97,325.70 L629.45,322.57 L629.93,319.06 L630.42,315.16 L630.90,310.90 L631.38,306.31 L631.87,301.43 L632.35,296.37 L632.83,291.22 L633.32,286.11 L633.80,281.21 L634.28,276.67 L634.77,272.66 L635.25,269.34 L635.73,266.86 L636.22,265.32 L636.70,264.80 L637.22,265.35 L637.75,266.98 L638.27,269.62 L638.79,273.14 L639.32,277.39 L639.84,282.21 L640.36,287.41 L640.89,292.83 L641.41,298.30 L641.93,303.67 L642.46,308.84 L642.98,313.71 L643.50,318.24 L644.03,322.37 L644.55,326.10 L645.07,329.42 L645.60,332.35 L646.12,334.91 L646.64,337.13 L647.17,339.03 L647.69,340.66 L648.21,342.03 L648.74,343.18 L649.26,344.12 L649.78,344.88 L650.31,345.48 L650.83,345.94 L651.35,346.25 L651.88,346.44 L652.40,346.50 L652.91,346.42 L653.41,346.18 L653.92,345.77 L654.43,345.19 L654.93,344.42 L655.44,343.44 L655.95,342.22 L656.45,340.74 L656.96,338.98 L657.47,336.89 L657.97,334.43 L658.48,331.58 L658.99,328.28 L659.49,324.50 L660.00,320.23 L660.51,315.43 L661.01,310.11 L661.52,304.28 L662.03,298.01 L662.53,291.35 L663.04,284.43 L663.55,277.39 L664.05,270.42 L664.56,263.72 L665.07,257.51 L665.57,252.03 L666.08,247.50 L666.59,244.11 L667.09,242.01 L667.60,241.30 L667.81,241.43 L668.03,241.80 L668.24,242.42 L668.45,243.28 L668.67,244.38 L668.88,245.69 L669.09,247.22 L669.31,248.94 L669.52,250.85 L669.73,252.92 L669.95,255.14 L670.16,257.50 L670.37,259.97 L670.59,262.53 L670.80,265.17 L671.01,267.87 L671.23,270.61 L671.44,273.38 L671.65,276.16 L671.87,278.94 L672.08,281.69 L672.29,284.42 L672.51,287.10 L672.72,289.73 L672.93,292.30 L673.15,294.80 L673.36,297.23 L673.57,299.57 L673.79,301.83 L674.00,304.00" fill="none" stroke="#9e2838" stroke-width="2" stroke-linejoin="round" stroke-linecap="butt" />
<path d="M486.80,304.00 L487.05,302.51 L487.30,300.99 L487.55,299.46 L487.80,297.92 L488.05,296.38 L488.30,294.83 L488.55,293.28 L488.80,291.74 L489.05,290.22 L489.30,288.71 L489.55,287.23 L489.80,285.77 L490.05,284.35 L490.30,282.97 L490.55,281.64 L490.80,280.36 L491.05,279.14 L491.30,277.99 L491.55,276.90 L491.80,275.89 L492.05,274.96 L492.30,274.11 L492.55,273.35 L492.80,272.68 L493.05,272.12 L493.30,271.65 L493.55,271.28 L493.80,271.01 L494.05,270.85 L494.30,270.80 L494.83,270.99 L495.36,271.54 L495.89,272.44 L496.42,273.66 L496.95,275.19 L497.48,276.97 L498.01,278.96 L498.54,281.12 L499.07,283.41 L499.60,285.78 L500.13,288.18 L500.66,290.58 L501.19,292.94 L501.72,295.24 L502.25,297.44 L502.78,299.53 L503.31,301.50 L503.84,303.32 L504.37,305.00 L504.90,306.53 L505.43,307.90 L505.96,309.12 L506.49,310.19 L507.02,311.10 L507.55,311.87 L508.08,312.50 L508.61,312.98 L509.14,313.33 L509.67,313.53 L510.20,313.60 L510.69,313.56 L511.17,313.44 L511.66,313.25 L512.15,312.97 L512.63,312.61 L513.12,312.17 L513.61,311.64 L514.09,311.02 L514.58,310.32 L515.07,309.53 L515.55,308.66 L516.04,307.69 L516.53,306.64 L517.01,305.51 L517.50,304.31 L517.99,303.05 L518.47,301.73 L518.96,300.37 L519.45,298.99 L519.93,297.61 L520.42,296.25 L520.91,294.93 L521.39,293.69 L521.88,292.54 L522.37,291.52 L522.85,290.65 L523.34,289.94 L523.83,289.42 L524.31,289.11 L524.80,289.00 L525.24,289.09 L525.68,289.37 L526.12,289.82 L526.56,290.44 L527.00,291.20 L527.44,292.10 L527.88,293.10 L528.32,294.19 L528.76,295.33 L529.20,296.52 L529.64,297.73 L530.08,298.94 L530.52,300.12 L530.96,301.28 L531.40,302.38 L531.84,303.43 L532.28,304.42 L532.72,305.34 L533.16,306.18 L533.60,306.95 L534.04,307.64 L534.48,308.25 L534.92,308.79 L535.36,309.25 L535.80,309.63 L536.24,309.95 L536.68,310.19 L537.12,310.36 L537.56,310.47 L538.00,310.50 L538.46,310.47 L538.91,310.36 L539.37,310.19 L539.83,309.95 L540.28,309.63 L540.74,309.25 L541.20,308.79 L541.65,308.25 L542.11,307.64 L542.57,306.95 L543.02,306.18 L543.48,305.34 L543.94,304.42 L544.39,303.43 L544.85,302.38 L545.31,301.28 L545.76,300.12 L546.22,298.94 L546.68,297.73 L547.13,296.52 L547.59,295.33 L548.05,294.19 L548.50,293.10 L548.96,292.10 L549.42,291.20 L549.87,290.44 L550.33,289.82 L550.79,289.37 L551.24,289.09 L551.70,289.00 L552.17,289.10 L552.64,289.40 L553.11,289.90 L553.58,290.57 L554.05,291.41 L554.52,292.39 L554.99,293.48 L555.46,294.67 L555.93,295.92 L556.40,297.22 L556.87,298.54 L557.34,299.86 L557.81,301.16 L558.28,302.42 L558.75,303.63 L559.22,304.78 L559.69,305.85 L560.16,306.86 L560.63,307.78 L561.10,308.62 L561.57,309.37 L562.04,310.04 L562.51,310.63 L562.98,311.13 L563.45,311.55 L563.92,311.90 L564.39,312.16 L564.86,312.35 L565.33,312.46 L565.80,312.50 L566.27,312.46 L566.74,312.34 L567.21,312.14 L567.68,311.85 L568.15,311.48 L568.62,311.03 L569.09,310.49 L569.56,309.86 L570.03,309.14 L570.50,308.33 L570.97,307.44 L571.44,306.45 L571.91,305.37 L572.38,304.22 L572.85,302.99 L573.32,301.69 L573.79,300.34 L574.26,298.95 L574.73,297.53 L575.20,296.12 L575.67,294.73 L576.14,293.38 L576.61,292.10 L577.08,290.93 L577.55,289.88 L578.02,288.99 L578.49,288.26 L578.96,287.73 L579.43,287.41 L579.90,287.30 L580.38,287.41 L580.86,287.74 L581.34,288.28 L581.82,289.01 L582.30,289.91 L582.78,290.97 L583.26,292.16 L583.74,293.45 L584.22,294.81 L584.70,296.22 L585.18,297.65 L585.66,299.08 L586.14,300.49 L586.62,301.86 L587.10,303.17 L587.58,304.42 L588.06,305.59 L588.54,306.68 L589.02,307.68 L589.50,308.58 L589.98,309.40 L590.46,310.13 L590.94,310.77 L591.42,311.31 L591.90,311.77 L592.38,312.14 L592.86,312.43 L593.34,312.64 L593.82,312.76 L594.30,312.80 L594.77,312.76 L595.25,312.65 L595.72,312.46 L596.19,312.19 L596.67,311.84 L597.14,311.41 L597.61,310.90 L598.09,310.31 L598.56,309.63 L599.03,308.87 L599.51,308.02 L599.98,307.08 L600.45,306.07 L600.93,304.98 L601.40,303.81 L601.87,302.59 L602.35,301.31 L602.82,300.00 L603.29,298.66 L603.77,297.33 L604.24,296.01 L604.71,294.74 L605.19,293.54 L605.66,292.43 L606.13,291.44 L606.61,290.59 L607.08,289.91 L607.55,289.41 L608.03,289.10 L608.50,289.00 L608.96,289.10 L609.41,289.40 L609.87,289.88 L610.33,290.54 L610.78,291.36 L611.24,292.31 L611.70,293.39 L612.15,294.55 L612.61,295.78 L613.07,297.05 L613.52,298.34 L613.98,299.63 L614.44,300.90 L614.89,302.13 L615.35,303.32 L615.81,304.44 L616.26,305.50 L616.72,306.48 L617.18,307.38 L617.63,308.20 L618.09,308.94 L618.55,309.59 L619.00,310.17 L619.46,310.66 L619.92,311.07 L620.37,311.41 L620.83,311.67 L621.29,311.85 L621.74,311.96 L622.20,312.00 L622.68,311.96 L623.17,311.84 L623.65,311.64 L624.13,311.36 L624.62,311.00 L625.10,310.56 L625.58,310.03 L626.07,309.41 L626.55,308.71 L627.03,307.92 L627.52,307.04 L628.00,306.07 L628.48,305.01 L628.97,303.88 L629.45,302.67 L629.93,301.40 L630.42,300.08 L630.90,298.71 L631.38,297.33 L631.87,295.94 L632.35,294.58 L632.83,293.26 L633.32,292.01 L633.80,290.86 L634.28,289.83 L634.77,288.95 L635.25,288.24 L635.73,287.72 L636.22,287.41 L636.70,287.30 L637.22,287.42 L637.75,287.76 L638.27,288.32 L638.79,289.09 L639.32,290.04 L639.84,291.15 L640.36,292.39 L640.89,293.74 L641.41,295.17 L641.93,296.64 L642.46,298.14 L642.98,299.64 L643.50,301.11 L644.03,302.55 L644.55,303.92 L645.07,305.22 L645.60,306.45 L646.12,307.59 L646.64,308.63 L647.17,309.59 L647.69,310.44 L648.21,311.20 L648.74,311.87 L649.26,312.44 L649.78,312.92 L650.31,313.31 L650.83,313.62 L651.35,313.83 L651.88,313.96 L652.40,314.00 L652.91,313.93 L653.41,313.72 L653.92,313.38 L654.43,312.89 L654.93,312.26 L655.44,311.48 L655.95,310.55 L656.45,309.48 L656.96,308.25 L657.47,306.86 L657.97,305.32 L658.48,303.62 L658.99,301.78 L659.49,299.80 L660.00,297.69 L660.51,295.47 L661.01,293.15 L661.52,290.76 L662.03,288.34 L662.53,285.92 L663.04,283.53 L663.55,281.22 L664.05,279.04 L664.56,277.02 L665.07,275.23 L665.57,273.69 L666.08,272.45 L666.59,271.54 L667.09,270.99 L667.60,270.80 L667.81,270.85 L668.03,271.01 L668.24,271.28 L668.45,271.65 L668.67,272.12 L668.88,272.68 L669.09,273.35 L669.31,274.11 L669.52,274.96 L669.73,275.89 L669.95,276.90 L670.16,277.99 L670.37,279.14 L670.59,280.36 L670.80,281.64 L671.01,282.97 L671.23,284.35 L671.44,285.77 L671.65,287.23 L671.87,288.71 L672.08,290.22 L672.29,291.74 L672.51,293.28 L672.72,294.83 L672.93,296.38 L673.15,297.92 L673.36,299.46 L673.57,300.99 L673.79,302.51 L674.00,304.00" fill="none" stroke="#2c74b6" stroke-width="2" stroke-linejoin="round" stroke-linecap="butt" />
<path d="M42.20,487.30 L42.45,485.52 L42.69,483.63 L42.94,481.63 L43.19,479.52 L43.43,477.31 L43.68,474.99 L43.93,472.57 L44.17,470.06 L44.42,467.46 L44.67,464.79 L44.91,462.06 L45.16,459.28 L45.41,456.48 L45.65,453.65 L45.90,450.84 L46.15,448.05 L46.39,445.32 L46.64,442.65 L46.89,440.09 L47.13,437.64 L47.38,435.34 L47.63,433.21 L47.87,431.26 L48.12,429.53 L48.37,428.03 L48.61,426.78 L48.86,425.79 L49.11,425.08 L49.35,424.64 L49.60,424.50 L50.40,425.62 L51.19,428.92 L51.99,434.17 L52.79,441.02 L53.58,449.06 L54.38,457.85 L55.18,466.94 L55.97,475.94 L56.77,484.55 L57.57,492.53 L58.36,499.73 L59.16,506.08 L59.96,511.58 L60.75,516.26 L61.55,520.18 L62.35,523.43 L63.14,526.10 L63.94,528.27 L64.74,530.02 L65.53,531.43 L66.33,532.55 L67.13,533.45 L67.92,534.16 L68.72,534.72 L69.52,535.15 L70.31,535.47 L71.11,535.71 L71.91,535.87 L72.70,535.97 L73.50,536.00 L74.39,535.97 L75.29,535.89 L76.18,535.76 L77.07,535.56 L77.97,535.28 L78.86,534.92 L79.75,534.46 L80.65,533.86 L81.54,533.11 L82.43,532.17 L83.33,530.99 L84.22,529.52 L85.11,527.70 L86.01,525.46 L86.90,522.74 L87.79,519.45 L88.69,515.52 L89.58,510.91 L90.47,505.58 L91.37,499.54 L92.26,492.85 L93.15,485.64 L94.05,478.09 L94.94,470.46 L95.83,463.10 L96.73,456.35 L97.62,450.61 L98.51,446.21 L99.41,443.44 L100.30,442.50 L101.03,443.44 L101.77,446.21 L102.50,450.61 L103.23,456.35 L103.97,463.10 L104.70,470.46 L105.43,478.09 L106.17,485.64 L106.90,492.85 L107.63,499.54 L108.37,505.58 L109.10,510.91 L109.83,515.52 L110.57,519.45 L111.30,522.74 L112.03,525.46 L112.77,527.70 L113.50,529.52 L114.23,530.99 L114.97,532.17 L115.70,533.11 L116.43,533.86 L117.17,534.46 L117.90,534.92 L118.63,535.28 L119.37,535.56 L120.10,535.76 L120.83,535.89 L121.57,535.97 L122.30,536.00 L123.14,535.97 L123.98,535.89 L124.82,535.76 L125.66,535.56 L126.50,535.28 L127.34,534.92 L128.18,534.45 L129.02,533.86 L129.86,533.10 L130.70,532.16 L131.54,530.97 L132.38,529.50 L133.22,527.68 L134.06,525.44 L134.90,522.71 L135.74,519.41 L136.58,515.48 L137.42,510.86 L138.26,505.52 L139.10,499.47 L139.94,492.76 L140.78,485.53 L141.62,477.96 L142.46,470.32 L143.30,462.94 L144.14,456.18 L144.98,450.42 L145.82,446.02 L146.66,443.25 L147.50,442.30 L148.26,443.25 L149.02,446.02 L149.78,450.42 L150.54,456.18 L151.30,462.94 L152.06,470.32 L152.82,477.96 L153.58,485.53 L154.34,492.76 L155.10,499.47 L155.86,505.52 L156.62,510.86 L157.38,515.48 L158.14,519.41 L158.90,522.71 L159.66,525.44 L160.42,527.68 L161.18,529.50 L161.94,530.97 L162.70,532.16 L163.46,533.10 L164.22,533.86 L164.98,534.45 L165.74,534.92 L166.50,535.28 L167.26,535.56 L168.02,535.76 L168.78,535.89 L169.54,535.97 L170.30,536.00 L171.06,535.97 L171.83,535.89 L172.59,535.76 L173.35,535.56 L174.12,535.28 L174.88,534.92 L175.64,534.45 L176.41,533.86 L177.17,533.10 L177.93,532.16 L178.70,530.97 L179.46,529.50 L180.22,527.68 L180.99,525.44 L181.75,522.71 L182.51,519.41 L183.28,515.48 L184.04,510.86 L184.80,505.52 L185.57,499.47 L186.33,492.76 L187.09,485.53 L187.86,477.96 L188.62,470.32 L189.38,462.94 L190.15,456.18 L190.91,450.42 L191.67,446.02 L192.44,443.25 L193.20,442.30 L193.92,443.25 L194.63,446.02 L195.35,450.42 L196.07,456.18 L196.78,462.94 L197.50,470.32 L198.22,477.96 L198.93,485.53 L199.65,492.76 L200.37,499.47 L201.08,505.52 L201.80,510.86 L202.52,515.48 L203.23,519.41 L203.95,522.71 L204.67,525.44 L205.38,527.68 L206.10,529.50 L206.82,530.97 L207.53,532.16 L208.25,533.10 L208.97,533.86 L209.68,534.45 L210.40,534.92 L211.12,535.28 L211.83,535.56 L212.55,535.76 L213.27,535.89 L213.98,535.97 L214.70,536.00 L215.18,535.98 L215.67,535.93 L216.15,535.83 L216.63,535.70 L217.12,535.53 L217.60,535.31 L218.08,535.05 L218.57,534.73 L219.05,534.36 L219.53,533.92 L220.02,533.41 L220.50,532.82 L220.98,532.14 L221.47,531.36 L221.95,530.46 L222.43,529.44 L222.92,528.27 L223.40,526.94 L223.88,525.42 L224.37,523.69 L224.85,521.74 L225.33,519.52 L225.82,517.02 L226.30,514.20 L226.78,511.04 L227.27,507.50 L227.75,503.55 L228.23,499.17 L228.72,494.33 L229.20,489.00" fill="none" stroke="#9e2838" stroke-width="2" stroke-linejoin="round" stroke-linecap="butt" />
<path d="M42.20,487.50 L42.48,486.28 L42.76,485.01 L43.04,483.70 L43.32,482.34 L43.60,480.93 L43.88,479.49 L44.16,478.01 L44.44,476.51 L44.72,474.98 L45.00,473.43 L45.28,471.87 L45.56,470.31 L45.84,468.76 L46.12,467.22 L46.40,465.70 L46.68,464.22 L46.96,462.78 L47.24,461.39 L47.52,460.07 L47.80,458.82 L48.08,457.66 L48.36,456.59 L48.64,455.62 L48.92,454.77 L49.20,454.03 L49.48,453.41 L49.76,452.93 L50.04,452.58 L50.32,452.37 L50.60,452.30 L51.45,452.75 L52.29,454.08 L53.14,456.23 L53.99,459.10 L54.83,462.58 L55.68,466.51 L56.53,470.76 L57.37,475.18 L58.22,479.65 L59.07,484.03 L59.91,488.25 L60.76,492.23 L61.61,495.93 L62.45,499.30 L63.30,502.34 L64.15,505.05 L64.99,507.45 L65.84,509.54 L66.69,511.35 L67.53,512.91 L68.38,514.23 L69.23,515.35 L70.07,516.29 L70.92,517.06 L71.77,517.68 L72.61,518.17 L73.46,518.54 L74.31,518.80 L75.15,518.95 L76.00,519.00 L76.81,518.96 L77.62,518.83 L78.43,518.60 L79.24,518.28 L80.05,517.86 L80.86,517.32 L81.67,516.66 L82.48,515.85 L83.29,514.88 L84.10,513.74 L84.91,512.39 L85.72,510.83 L86.53,509.02 L87.34,506.96 L88.15,504.61 L88.96,501.99 L89.77,499.07 L90.58,495.89 L91.39,492.45 L92.20,488.80 L93.01,485.02 L93.82,481.16 L94.63,477.34 L95.44,473.67 L96.25,470.28 L97.06,467.28 L97.87,464.80 L98.68,462.94 L99.49,461.79 L100.30,461.40 L101.09,461.78 L101.88,462.92 L102.67,464.75 L103.46,467.21 L104.25,470.17 L105.04,473.52 L105.83,477.15 L106.62,480.92 L107.41,484.73 L108.20,488.47 L108.99,492.07 L109.78,495.47 L110.57,498.62 L111.36,501.49 L112.15,504.09 L112.94,506.40 L113.73,508.44 L114.52,510.23 L115.31,511.77 L116.10,513.10 L116.89,514.23 L117.68,515.19 L118.47,515.99 L119.26,516.64 L120.05,517.17 L120.84,517.59 L121.63,517.91 L122.42,518.13 L123.21,518.26 L124.00,518.30 L124.78,518.26 L125.57,518.13 L126.35,517.91 L127.13,517.60 L127.92,517.19 L128.70,516.66 L129.48,516.01 L130.27,515.22 L131.05,514.28 L131.83,513.16 L132.62,511.84 L133.40,510.31 L134.18,508.55 L134.97,506.53 L135.75,504.24 L136.53,501.67 L137.32,498.82 L138.10,495.71 L138.88,492.35 L139.67,488.79 L140.45,485.08 L141.23,481.32 L142.02,477.58 L142.80,474.00 L143.58,470.68 L144.37,467.74 L145.15,465.32 L145.93,463.50 L146.72,462.38 L147.50,462.00 L148.28,462.37 L149.07,463.46 L149.85,465.22 L150.63,467.57 L151.42,470.41 L152.20,473.63 L152.98,477.11 L153.77,480.73 L154.55,484.39 L155.33,487.98 L156.12,491.43 L156.90,494.69 L157.68,497.71 L158.47,500.47 L159.25,502.96 L160.03,505.18 L160.82,507.14 L161.60,508.85 L162.38,510.34 L163.17,511.61 L163.95,512.70 L164.73,513.61 L165.52,514.38 L166.30,515.01 L167.08,515.52 L167.87,515.92 L168.65,516.22 L169.43,516.43 L170.22,516.56 L171.00,516.60 L171.74,516.56 L172.48,516.43 L173.22,516.22 L173.96,515.92 L174.70,515.52 L175.44,515.01 L176.18,514.38 L176.92,513.61 L177.66,512.70 L178.40,511.61 L179.14,510.34 L179.88,508.85 L180.62,507.14 L181.36,505.18 L182.10,502.96 L182.84,500.47 L183.58,497.71 L184.32,494.69 L185.06,491.43 L185.80,487.98 L186.54,484.39 L187.28,480.73 L188.02,477.11 L188.76,473.63 L189.50,470.41 L190.24,467.57 L190.98,465.22 L191.72,463.46 L192.46,462.37 L193.20,462.00 L193.92,462.36 L194.63,463.42 L195.35,465.12 L196.07,467.41 L196.78,470.17 L197.50,473.29 L198.22,476.67 L198.93,480.18 L199.65,483.73 L200.37,487.22 L201.08,490.57 L201.80,493.73 L202.52,496.67 L203.23,499.35 L203.95,501.76 L204.67,503.92 L205.38,505.82 L206.10,507.48 L206.82,508.92 L207.53,510.16 L208.25,511.21 L208.97,512.10 L209.68,512.84 L210.40,513.46 L211.12,513.95 L211.83,514.34 L212.55,514.63 L213.27,514.84 L213.98,514.96 L214.70,515.00 L215.18,514.98 L215.67,514.92 L216.15,514.82 L216.63,514.68 L217.12,514.50 L217.60,514.28 L218.08,514.01 L218.57,513.69 L219.05,513.33 L219.53,512.91 L220.02,512.44 L220.50,511.91 L220.98,511.32 L221.47,510.67 L221.95,509.94 L222.43,509.14 L222.92,508.26 L223.40,507.29 L223.88,506.24 L224.37,505.09 L224.85,503.84 L225.33,502.48 L225.82,501.01 L226.30,499.43 L226.78,497.73 L227.27,495.90 L227.75,493.94 L228.23,491.86 L228.72,489.64 L229.20,487.30" fill="none" stroke="#2c74b6" stroke-width="2" stroke-linejoin="round" stroke-linecap="butt" />
<path d="M302.80,488.56 L303.73,478.42 L304.66,467.41 L305.59,456.07 L306.53,445.22 L307.46,435.86 L308.39,429.00 L309.32,425.53 L310.25,425.89 L311.18,430.04 L312.12,437.43 L313.05,447.15 L313.98,458.16 L314.91,469.49 L315.84,480.38 L316.77,490.31 L317.70,499.03 L318.64,506.45 L319.57,512.61 L320.50,517.64 L321.43,521.68 L322.36,524.89 L323.29,527.43 L324.22,529.42 L325.16,530.96 L326.09,532.16 L327.02,533.09 L327.95,533.81 L328.88,534.37 L329.81,534.79 L330.75,535.12 L331.68,535.37 L332.61,535.56 L333.54,535.71 L334.47,535.83 L335.40,535.91 L336.33,535.98 L337.27,536.03 L338.20,536.07 L339.13,536.10 L340.06,536.12 L340.99,536.14 L341.92,536.16 L342.85,536.17 L343.79,536.17 L344.72,536.18 L345.65,536.18 L346.58,536.19 L347.51,536.19 L348.44,536.19 L349.38,536.19 L350.31,536.20 L351.24,536.20 L352.17,536.20 L353.10,536.20 L354.03,536.20 L354.96,536.20 L355.90,536.20 L356.83,536.20 L357.76,536.20 L358.69,536.20 L359.62,536.20 L360.55,536.20 L361.48,536.20 L362.42,536.20 L363.35,536.20 L364.28,536.20 L365.21,536.20 L366.14,536.20 L367.07,536.19 L368.00,536.19 L368.94,536.19 L369.87,536.19 L370.80,536.19 L371.73,536.19 L372.66,536.18 L373.59,536.18 L374.53,536.17 L375.46,536.17 L376.39,536.16 L377.32,536.15 L378.25,536.14 L379.18,536.13 L380.11,536.11 L381.05,536.09 L381.98,536.07 L382.91,536.04 L383.84,536.00 L384.77,535.96 L385.70,535.91 L386.63,535.84 L387.57,535.76 L388.50,535.66 L389.43,535.54 L390.36,535.40 L391.29,535.22 L392.22,535.00 L393.16,534.73 L394.09,534.40 L395.02,534.01 L395.95,533.52 L396.88,532.93 L397.81,532.21 L398.74,531.34 L399.68,530.28 L400.61,529.00 L401.54,527.46 L402.47,525.62 L403.40,523.40 L404.33,520.77 L405.26,517.66 L406.20,514.01 L407.13,509.77 L408.06,504.90 L408.99,499.38 L409.92,493.23 L410.85,486.50 L411.79,479.34 L412.72,471.93 L413.65,464.56 L414.58,457.56 L415.51,451.31 L416.44,446.22 L417.37,442.66 L418.31,440.87 L419.24,441.03 L420.17,443.09 L421.10,446.92 L422.03,452.21 L422.96,458.59 L423.89,465.68 L424.83,473.08 L425.76,480.47 L426.69,487.57 L427.62,494.21 L428.55,500.27 L429.48,505.69 L430.42,510.47 L431.35,514.61 L432.28,518.18 L433.21,521.21 L434.14,523.77 L435.07,525.92 L436.00,527.72 L436.94,529.22 L437.87,530.46 L438.80,531.48 L439.73,532.33 L440.66,533.03 L441.59,533.60 L442.52,534.07 L443.46,534.46 L444.39,534.78 L445.32,535.04 L446.25,535.25 L447.18,535.42 L448.11,535.56 L449.05,535.68 L449.98,535.77 L450.91,535.85 L451.84,535.92 L452.77,535.97 L453.70,536.01 L454.63,536.04 L455.57,536.07 L456.50,536.09 L457.43,536.11 L458.36,536.13 L459.29,536.14 L460.22,536.15 L461.15,536.16 L462.09,536.16 L463.02,536.17 L463.95,536.17 L464.88,536.17 L465.81,536.17 L466.74,536.17 L467.68,536.17 L468.61,536.16 L469.54,536.16 L470.47,536.15 L471.40,536.14 L472.33,536.13 L473.26,536.12 L474.20,536.10 L475.13,536.08 L476.06,536.05 L476.99,536.02 L477.92,535.98 L478.85,535.93 L479.79,535.87 L480.72,535.80 L481.65,535.71 L482.58,535.60 L483.51,535.47 L484.44,535.31 L485.37,535.11 L486.31,534.87 L487.24,534.57 L488.17,534.21 L489.10,533.77 L490.03,533.23 L490.96,532.58 L491.89,531.78 L492.83,530.82 L493.76,529.65 L494.69,528.24 L495.62,526.55 L496.55,524.52 L497.48,522.10 L498.42,519.23 L499.35,515.85 L500.28,511.90 L501.21,507.34 L502.14,502.13 L503.07,496.27 L504.00,489.82 L504.94,482.84 L505.87,475.53 L506.80,468.10 L507.73,460.87 L508.66,454.21 L509.59,448.51 L510.52,444.17 L511.46,441.50 L512.39,440.71 L513.32,441.86 L514.25,444.87 L515.18,449.49 L516.11,455.40 L517.04,462.19 L517.98,469.49 L518.91,476.92 L519.84,484.19 L520.77,491.07 L521.70,497.42 L522.63,503.16 L523.57,508.24 L524.50,512.69 L525.43,516.52 L526.36,519.81 L527.29,522.59 L528.22,524.93 L529.15,526.89 L530.09,528.53 L531.02,529.89 L531.95,531.01 L532.88,531.94 L533.81,532.71 L534.74,533.34 L535.67,533.86 L536.61,534.28 L537.54,534.63 L538.47,534.92 L539.40,535.15 L540.33,535.34 L541.26,535.50 L542.20,535.63 L543.13,535.73 L544.06,535.82 L544.99,535.89 L545.92,535.94 L546.85,535.99 L547.78,536.03 L548.72,536.06 L549.65,536.08 L550.58,536.10 L551.51,536.12 L552.44,536.13 L553.37,536.14 L554.30,536.15 L555.24,536.16 L556.17,536.16 L557.10,536.16 L558.03,536.16 L558.96,536.16 L559.89,536.16 L560.83,536.16 L561.76,536.15 L562.69,536.14 L563.62,536.13 L564.55,536.12 L565.48,536.10 L566.41,536.08 L567.35,536.06 L568.28,536.03 L569.21,535.99 L570.14,535.95 L571.07,535.89 L572.00,535.82 L572.93,535.73 L573.87,535.63 L574.80,535.50 L575.73,535.35 L576.66,535.16 L577.59,534.93 L578.52,534.64 L579.46,534.30 L580.39,533.88 L581.32,533.36 L582.25,532.74 L583.18,531.98 L584.11,531.05 L585.04,529.94 L585.98,528.59 L586.91,526.97 L587.84,525.02 L588.77,522.69 L589.70,519.93 L590.63,516.67 L591.57,512.85 L592.50,508.44 L593.43,503.38 L594.36,497.67 L595.29,491.34 L596.22,484.48 L597.15,477.22 L598.09,469.79 L599.02,462.49 L599.95,455.66 L600.88,449.71 L601.81,445.03 L602.74,441.95 L603.67,440.72 L604.61,441.43 L605.54,444.03 L606.47,448.31 L607.40,453.95 L608.33,460.58 L609.26,467.80 L610.19,475.22 L611.13,482.55 L612.06,489.54 L612.99,496.02 L613.92,501.90 L614.85,507.14 L615.78,511.73 L616.72,515.70 L617.65,519.10 L618.58,521.99 L619.51,524.43 L620.44,526.47 L621.37,528.18 L622.30,529.60 L623.24,530.77 L624.17,531.75 L625.10,532.55 L626.03,533.21 L626.96,533.75 L627.89,534.19 L628.83,534.56 L629.76,534.86 L630.69,535.10 L631.62,535.30 L632.55,535.47 L633.48,535.60 L634.41,535.71 L635.35,535.80 L636.28,535.87 L637.21,535.93 L638.14,535.98 L639.07,536.02 L640.00,536.05 L640.93,536.08 L641.87,536.10 L642.80,536.11 L643.73,536.13 L644.66,536.14 L645.59,536.14 L646.52,536.15 L647.45,536.15 L648.39,536.15 L649.32,536.14 L650.25,536.14 L651.18,536.13 L652.11,536.11 L653.04,536.09 L653.98,536.06 L654.91,536.02 L655.84,535.96 L656.77,535.89 L657.70,535.80 L658.63,535.68 L659.56,535.53 L660.50,535.33 L661.43,535.06 L662.36,534.72 L663.29,534.27 L664.22,533.69 L665.15,532.94 L666.09,531.96 L667.02,530.70 L667.95,529.08 L668.88,527.01 L669.81,524.35 L670.74,521.00 L671.67,516.79 L672.61,511.56 L673.54,505.17 L674.47,497.51 L675.40,488.56" fill="none" stroke="#9e2838" stroke-width="2" stroke-linejoin="round" stroke-linecap="butt" />
<path d="M302.80,485.41 L303.73,479.89 L304.66,474.22 L305.59,468.55 L306.53,463.13 L307.46,458.22 L308.39,454.14 L309.32,451.18 L310.25,449.56 L311.18,449.50 L312.12,451.57 L313.05,455.59 L313.98,461.03 L314.91,467.26 L315.84,473.74 L316.77,480.07 L317.70,486.00 L318.64,491.39 L319.57,496.20 L320.50,500.45 L321.43,504.17 L322.36,507.42 L323.29,510.26 L324.22,512.73 L325.16,514.88 L326.09,516.77 L327.02,518.43 L327.95,519.89 L328.88,521.17 L329.81,522.32 L330.75,523.33 L331.68,524.23 L332.61,525.04 L333.54,525.77 L334.47,526.42 L335.40,527.01 L336.33,527.54 L337.27,528.03 L338.20,528.46 L339.13,528.86 L340.06,529.23 L340.99,529.56 L341.92,529.87 L342.85,530.15 L343.79,530.41 L344.72,530.64 L345.65,530.86 L346.58,531.06 L347.51,531.25 L348.44,531.42 L349.38,531.57 L350.31,531.72 L351.24,531.85 L352.17,531.97 L353.10,532.08 L354.03,532.18 L354.96,532.28 L355.90,532.36 L356.83,532.43 L357.76,532.50 L358.69,532.56 L359.62,532.60 L360.55,532.65 L361.48,532.68 L362.42,532.70 L363.35,532.72 L364.28,532.72 L365.21,532.72 L366.14,532.71 L367.07,532.69 L368.00,532.66 L368.94,532.61 L369.87,532.56 L370.80,532.49 L371.73,532.41 L372.66,532.32 L373.59,532.21 L374.53,532.09 L375.46,531.94 L376.39,531.78 L377.32,531.60 L378.25,531.39 L379.18,531.16 L380.11,530.90 L381.05,530.62 L381.98,530.30 L382.91,529.95 L383.84,529.55 L384.77,529.12 L385.70,528.64 L386.63,528.12 L387.57,527.53 L388.50,526.89 L389.43,526.19 L390.36,525.41 L391.29,524.56 L392.22,523.63 L393.16,522.60 L394.09,521.48 L395.02,520.24 L395.95,518.90 L396.88,517.42 L397.81,515.82 L398.74,514.07 L399.68,512.16 L400.61,510.10 L401.54,507.86 L402.47,505.45 L403.40,502.86 L404.33,500.09 L405.26,497.14 L406.20,494.01 L407.13,490.74 L408.06,487.33 L408.99,483.83 L409.92,480.27 L410.85,476.71 L411.79,473.23 L412.72,469.90 L413.65,466.81 L414.58,464.05 L415.51,461.71 L416.44,459.89 L417.37,458.65 L418.31,458.07 L419.24,458.13 L420.17,458.85 L421.10,460.19 L422.03,462.11 L422.96,464.53 L423.89,467.36 L424.83,470.51 L425.76,473.89 L426.69,477.40 L427.62,480.97 L428.55,484.54 L429.48,488.04 L430.42,491.45 L431.35,494.71 L432.28,497.82 L433.21,500.76 L434.14,503.52 L435.07,506.09 L436.00,508.49 L436.94,510.71 L437.87,512.76 L438.80,514.65 L439.73,516.39 L440.66,517.98 L441.59,519.44 L442.52,520.78 L443.46,522.00 L444.39,523.12 L445.32,524.14 L446.25,525.06 L447.18,525.91 L448.11,526.67 L449.05,527.37 L449.98,528.00 L450.91,528.57 L451.84,529.08 L452.77,529.54 L453.70,529.96 L454.63,530.33 L455.57,530.66 L456.50,530.96 L457.43,531.22 L458.36,531.44 L459.29,531.63 L460.22,531.80 L461.15,531.93 L462.09,532.04 L463.02,532.12 L463.95,532.18 L464.88,532.21 L465.81,532.22 L466.74,532.20 L467.68,532.16 L468.61,532.09 L469.54,532.00 L470.47,531.88 L471.40,531.73 L472.33,531.55 L473.26,531.34 L474.20,531.10 L475.13,530.82 L476.06,530.51 L476.99,530.16 L477.92,529.76 L478.85,529.32 L479.79,528.83 L480.72,528.28 L481.65,527.68 L482.58,527.01 L483.51,526.28 L484.44,525.46 L485.37,524.57 L486.31,523.59 L487.24,522.51 L488.17,521.33 L489.10,520.04 L490.03,518.63 L490.96,517.08 L491.89,515.40 L492.83,513.57 L493.76,511.58 L494.69,509.42 L495.62,507.09 L496.55,504.58 L497.48,501.89 L498.42,499.02 L499.35,495.97 L500.28,492.76 L501.21,489.41 L502.14,485.94 L503.07,482.39 L504.00,478.82 L504.94,475.29 L505.87,471.87 L506.80,468.64 L507.73,465.70 L508.66,463.15 L509.59,461.06 L510.52,459.53 L511.46,458.61 L512.39,458.34 L513.32,458.73 L514.25,459.77 L515.18,461.42 L516.11,463.60 L517.04,466.24 L517.98,469.24 L518.91,472.51 L519.84,475.96 L520.77,479.51 L521.70,483.08 L522.63,486.62 L523.57,490.07 L524.50,493.40 L525.43,496.58 L526.36,499.60 L527.29,502.43 L528.22,505.09 L529.15,507.57 L530.09,509.87 L531.02,511.99 L531.95,513.95 L532.88,515.76 L533.81,517.42 L534.74,518.93 L535.67,520.32 L536.61,521.60 L537.54,522.75 L538.47,523.81 L539.40,524.77 L540.33,525.65 L541.26,526.44 L542.20,527.16 L543.13,527.82 L544.06,528.40 L544.99,528.93 L545.92,529.41 L546.85,529.84 L547.78,530.22 L548.72,530.56 L549.65,530.85 L550.58,531.11 L551.51,531.34 L552.44,531.53 L553.37,531.69 L554.30,531.81 L555.24,531.91 L556.17,531.98 L557.10,532.03 L558.03,532.04 L558.96,532.03 L559.89,531.99 L560.83,531.92 L561.76,531.82 L562.69,531.69 L563.62,531.54 L564.55,531.35 L565.48,531.13 L566.41,530.87 L567.35,530.57 L568.28,530.24 L569.21,529.86 L570.14,529.43 L571.07,528.96 L572.00,528.43 L572.93,527.85 L573.87,527.20 L574.80,526.48 L575.73,525.69 L576.66,524.81 L577.59,523.85 L578.52,522.80 L579.46,521.64 L580.39,520.38 L581.32,518.99 L582.25,517.47 L583.18,515.82 L584.11,514.02 L585.04,512.06 L585.98,509.94 L586.91,507.64 L587.84,505.17 L588.77,502.51 L589.70,499.67 L590.63,496.66 L591.57,493.48 L592.50,490.15 L593.43,486.69 L594.36,483.15 L595.29,479.57 L596.22,476.02 L597.15,472.55 L598.09,469.27 L599.02,466.25 L599.95,463.59 L600.88,461.38 L601.81,459.71 L602.74,458.64 L603.67,458.22 L604.61,458.47 L605.54,459.37 L606.47,460.89 L607.40,462.96 L608.33,465.51 L609.26,468.44 L610.19,471.67 L611.13,475.10 L612.06,478.64 L612.99,482.22 L613.92,485.78 L614.85,489.27 L615.78,492.64 L616.72,495.87 L617.65,498.94 L618.58,501.83 L619.51,504.54 L620.44,507.07 L621.37,509.42 L622.30,511.59 L623.24,513.60 L624.17,515.45 L625.10,517.15 L626.03,518.71 L626.96,520.14 L627.89,521.45 L628.83,522.65 L629.76,523.74 L630.69,524.73 L631.62,525.64 L632.55,526.47 L633.48,527.22 L634.41,527.89 L635.35,528.51 L636.28,529.07 L637.21,529.57 L638.14,530.02 L639.07,530.42 L640.00,530.78 L640.93,531.10 L641.87,531.37 L642.80,531.61 L643.73,531.82 L644.66,531.98 L645.59,532.12 L646.52,532.22 L647.45,532.28 L648.39,532.31 L649.32,532.31 L650.25,532.26 L651.18,532.18 L652.11,532.06 L653.04,531.89 L653.98,531.67 L654.91,531.39 L655.84,531.06 L656.77,530.66 L657.70,530.18 L658.63,529.62 L659.56,528.97 L660.50,528.22 L661.43,527.34 L662.36,526.33 L663.29,525.17 L664.22,523.84 L665.15,522.32 L666.09,520.57 L667.02,518.59 L667.95,516.33 L668.88,513.78 L669.81,510.89 L670.74,507.64 L671.67,504.00 L672.61,499.95 L673.54,495.49 L674.47,490.63 L675.40,485.41" fill="none" stroke="#2c74b6" stroke-width="2" stroke-linejoin="round" stroke-linecap="butt" />
</svg></body></html>
